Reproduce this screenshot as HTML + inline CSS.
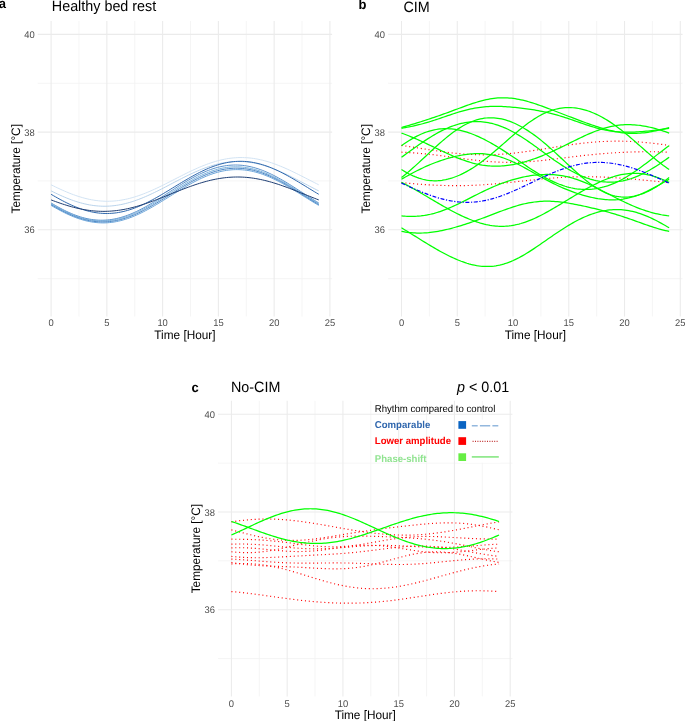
<!DOCTYPE html>
<html><head><meta charset="utf-8"><title>Temperature rhythms</title>
<style>html,body{margin:0;padding:0;background:#fff;width:685px;height:721px;overflow:hidden}svg{display:block}</style>
</head><body>
<svg width="685" height="721" viewBox="0 0 685 721">
<style>
.gM{stroke:#ebebeb;stroke-width:1.07;fill:none}
.gm{stroke:#f3f3f3;stroke-width:0.8;fill:none}
text{font-family:"Liberation Sans",sans-serif;text-rendering:geometricPrecision}
svg{will-change:transform}
.ax{font-size:9.4px;fill:#4d4d4d}
.at{font-size:11.8px;fill:#000}
.ti{font-size:14.35px;fill:#000}
.tag{font-size:13px;font-weight:bold;fill:#000}
.lg{font-size:9.6px}
.gr{stroke:#00ff00;stroke-width:1.25;fill:none}
.rd{stroke:#ff0000;stroke-width:1.15;fill:none;stroke-dasharray:1.05 2.85}
.bl{stroke:#0000ff;stroke-width:1.2;fill:none;stroke-dasharray:4 1.6 1.2 1.6}
</style>
<rect width="685" height="721" fill="#fff"/>
<line x1="78.98" y1="20.97" x2="78.98" y2="316.51" class="gm"/>
<line x1="134.74" y1="20.97" x2="134.74" y2="316.51" class="gm"/>
<line x1="190.5" y1="20.97" x2="190.5" y2="316.51" class="gm"/>
<line x1="246.26" y1="20.97" x2="246.26" y2="316.51" class="gm"/>
<line x1="302.02" y1="20.97" x2="302.02" y2="316.51" class="gm"/>
<line x1="37.72" y1="278.65" x2="332.13" y2="278.65" class="gm"/>
<line x1="37.72" y1="180.95" x2="332.13" y2="180.95" class="gm"/>
<line x1="37.72" y1="83.25" x2="332.13" y2="83.25" class="gm"/>
<line x1="51.1" y1="20.97" x2="51.1" y2="316.51" class="gM"/>
<line x1="106.86" y1="20.97" x2="106.86" y2="316.51" class="gM"/>
<line x1="162.62" y1="20.97" x2="162.62" y2="316.51" class="gM"/>
<line x1="218.38" y1="20.97" x2="218.38" y2="316.51" class="gM"/>
<line x1="274.14" y1="20.97" x2="274.14" y2="316.51" class="gM"/>
<line x1="329.9" y1="20.97" x2="329.9" y2="316.51" class="gM"/>
<line x1="37.72" y1="229.8" x2="332.13" y2="229.8" class="gM"/>
<line x1="37.72" y1="132.1" x2="332.13" y2="132.1" class="gM"/>
<line x1="37.72" y1="34.4" x2="332.13" y2="34.4" class="gM"/>
<line x1="429.38" y1="20.97" x2="429.38" y2="316.51" class="gm"/>
<line x1="485.14" y1="20.97" x2="485.14" y2="316.51" class="gm"/>
<line x1="540.9" y1="20.97" x2="540.9" y2="316.51" class="gm"/>
<line x1="596.66" y1="20.97" x2="596.66" y2="316.51" class="gm"/>
<line x1="652.42" y1="20.97" x2="652.42" y2="316.51" class="gm"/>
<line x1="388.12" y1="278.65" x2="682.53" y2="278.65" class="gm"/>
<line x1="388.12" y1="180.95" x2="682.53" y2="180.95" class="gm"/>
<line x1="388.12" y1="83.25" x2="682.53" y2="83.25" class="gm"/>
<line x1="401.5" y1="20.97" x2="401.5" y2="316.51" class="gM"/>
<line x1="457.26" y1="20.97" x2="457.26" y2="316.51" class="gM"/>
<line x1="513.02" y1="20.97" x2="513.02" y2="316.51" class="gM"/>
<line x1="568.78" y1="20.97" x2="568.78" y2="316.51" class="gM"/>
<line x1="624.54" y1="20.97" x2="624.54" y2="316.51" class="gM"/>
<line x1="680.3" y1="20.97" x2="680.3" y2="316.51" class="gM"/>
<line x1="388.12" y1="229.8" x2="682.53" y2="229.8" class="gM"/>
<line x1="388.12" y1="132.1" x2="682.53" y2="132.1" class="gM"/>
<line x1="388.12" y1="34.4" x2="682.53" y2="34.4" class="gM"/>
<line x1="259.28" y1="400.87" x2="259.28" y2="696.41" class="gm"/>
<line x1="315.04" y1="400.87" x2="315.04" y2="696.41" class="gm"/>
<line x1="370.8" y1="400.87" x2="370.8" y2="696.41" class="gm"/>
<line x1="426.56" y1="400.87" x2="426.56" y2="696.41" class="gm"/>
<line x1="482.32" y1="400.87" x2="482.32" y2="696.41" class="gm"/>
<line x1="218.02" y1="658.55" x2="512.43" y2="658.55" class="gm"/>
<line x1="218.02" y1="560.85" x2="512.43" y2="560.85" class="gm"/>
<line x1="218.02" y1="463.15" x2="512.43" y2="463.15" class="gm"/>
<line x1="231.4" y1="400.87" x2="231.4" y2="696.41" class="gM"/>
<line x1="287.16" y1="400.87" x2="287.16" y2="696.41" class="gM"/>
<line x1="342.92" y1="400.87" x2="342.92" y2="696.41" class="gM"/>
<line x1="398.68" y1="400.87" x2="398.68" y2="696.41" class="gM"/>
<line x1="454.44" y1="400.87" x2="454.44" y2="696.41" class="gM"/>
<line x1="510.2" y1="400.87" x2="510.2" y2="696.41" class="gM"/>
<line x1="218.02" y1="609.7" x2="512.43" y2="609.7" class="gM"/>
<line x1="218.02" y1="512" x2="512.43" y2="512" class="gM"/>
<line x1="218.02" y1="414.3" x2="512.43" y2="414.3" class="gM"/>
<text transform="translate(34.6,233.3) scale(1,1.04)" class="ax" text-anchor="end">36</text>
<text transform="translate(34.6,135.6) scale(1,1.04)" class="ax" text-anchor="end">38</text>
<text transform="translate(34.6,37.9) scale(1,1.04)" class="ax" text-anchor="end">40</text>
<text transform="translate(51.1,326.3) scale(1,1.04)" class="ax" text-anchor="middle">0</text>
<text transform="translate(106.86,326.3) scale(1,1.04)" class="ax" text-anchor="middle">5</text>
<text transform="translate(162.62,326.3) scale(1,1.04)" class="ax" text-anchor="middle">10</text>
<text transform="translate(218.38,326.3) scale(1,1.04)" class="ax" text-anchor="middle">15</text>
<text transform="translate(274.14,326.3) scale(1,1.04)" class="ax" text-anchor="middle">20</text>
<text transform="translate(329.9,326.3) scale(1,1.04)" class="ax" text-anchor="middle">25</text>
<text transform="translate(19.7,168.74) rotate(-90) scale(1,1.04)" class="at" text-anchor="middle">Temperature [°C]</text>
<text transform="translate(184.92,339.1) scale(1,1.04)" class="at" text-anchor="middle">Time [Hour]</text>
<text transform="translate(385,233.3) scale(1,1.04)" class="ax" text-anchor="end">36</text>
<text transform="translate(385,135.6) scale(1,1.04)" class="ax" text-anchor="end">38</text>
<text transform="translate(385,37.9) scale(1,1.04)" class="ax" text-anchor="end">40</text>
<text transform="translate(401.5,326.3) scale(1,1.04)" class="ax" text-anchor="middle">0</text>
<text transform="translate(457.26,326.3) scale(1,1.04)" class="ax" text-anchor="middle">5</text>
<text transform="translate(513.02,326.3) scale(1,1.04)" class="ax" text-anchor="middle">10</text>
<text transform="translate(568.78,326.3) scale(1,1.04)" class="ax" text-anchor="middle">15</text>
<text transform="translate(624.54,326.3) scale(1,1.04)" class="ax" text-anchor="middle">20</text>
<text transform="translate(680.3,326.3) scale(1,1.04)" class="ax" text-anchor="middle">25</text>
<text transform="translate(370.1,168.74) rotate(-90) scale(1,1.04)" class="at" text-anchor="middle">Temperature [°C]</text>
<text transform="translate(535.32,339.1) scale(1,1.04)" class="at" text-anchor="middle">Time [Hour]</text>
<text transform="translate(214.9,613.2) scale(1,1.04)" class="ax" text-anchor="end">36</text>
<text transform="translate(214.9,515.5) scale(1,1.04)" class="ax" text-anchor="end">38</text>
<text transform="translate(214.9,417.8) scale(1,1.04)" class="ax" text-anchor="end">40</text>
<text transform="translate(231.4,706.8) scale(1,1.04)" class="ax" text-anchor="middle">0</text>
<text transform="translate(287.16,706.8) scale(1,1.04)" class="ax" text-anchor="middle">5</text>
<text transform="translate(342.92,706.8) scale(1,1.04)" class="ax" text-anchor="middle">10</text>
<text transform="translate(398.68,706.8) scale(1,1.04)" class="ax" text-anchor="middle">15</text>
<text transform="translate(454.44,706.8) scale(1,1.04)" class="ax" text-anchor="middle">20</text>
<text transform="translate(510.2,706.8) scale(1,1.04)" class="ax" text-anchor="middle">25</text>
<text transform="translate(199.7,548.64) rotate(-90) scale(1,1.04)" class="at" text-anchor="middle">Temperature [°C]</text>
<text transform="translate(365.22,718.9) scale(1,1.04)" class="at" text-anchor="middle">Time [Hour]</text>
<text transform="translate(-1.3,7.9) scale(1,1.04)" class="tag">a</text>
<text transform="translate(51.8,11.0) scale(1,1.04)" class="ti">Healthy bed rest</text>
<text transform="translate(358.6,9.0) scale(1,1.04)" class="tag">b</text>
<text transform="translate(403.5,11.6) scale(1,1.04)" class="ti">CIM</text>
<text transform="translate(191.4,391.9) scale(1,1.04)" class="tag">c</text>
<text transform="translate(231.0,391.6) scale(1,1.04)" class="ti">No-CIM</text>
<text transform="translate(457.0,391.6) scale(1,1.04)" class="ti"><tspan font-style="italic">p</tspan> &lt; 0.01</text>
<path d="M51.1,184.79 L53.35,185.9 L55.6,186.99 L57.85,188.07 L60.1,189.11 L62.35,190.13 L64.59,191.12 L66.84,192.08 L69.09,193 L71.34,193.89 L73.59,194.73 L75.84,195.53 L78.09,196.29 L80.34,197 L82.59,197.66 L84.84,198.27 L87.09,198.83 L89.34,199.33 L91.58,199.78 L93.83,200.17 L96.08,200.5 L98.33,200.77 L100.58,200.99 L102.83,201.14 L105.08,201.24 L107.33,201.27 L109.58,201.24 L111.83,201.15 L114.08,201 L116.33,200.79 L118.57,200.52 L120.82,200.2 L123.07,199.81 L125.32,199.37 L127.57,198.87 L129.82,198.32 L132.07,197.71 L134.32,197.05 L136.57,196.35 L138.82,195.6 L141.07,194.8 L143.31,193.96 L145.56,193.08 L147.81,192.16 L150.06,191.2 L152.31,190.21 L154.56,189.19 L156.81,188.15 L159.06,187.08 L161.31,185.99 L163.56,184.88 L165.81,183.75 L168.06,182.62 L170.3,181.47 L172.55,180.32 L174.8,179.17 L177.05,178.01 L179.3,176.86 L181.55,175.72 L183.8,174.59 L186.05,173.47 L188.3,172.37 L190.55,171.29 L192.8,170.23 L195.05,169.19 L197.29,168.19 L199.54,167.21 L201.79,166.27 L204.04,165.37 L206.29,164.5 L208.54,163.68 L210.79,162.9 L213.04,162.17 L215.29,161.48 L217.54,160.85 L219.79,160.26 L222.03,159.73 L224.28,159.26 L226.53,158.84 L228.78,158.48 L231.03,158.17 L233.28,157.93 L235.53,157.75 L237.78,157.62 L240.03,157.56 L242.28,157.56 L244.53,157.61 L246.78,157.73 L249.02,157.91 L251.27,158.15 L253.52,158.45 L255.77,158.81 L258.02,159.22 L260.27,159.7 L262.52,160.22 L264.77,160.8 L267.02,161.43 L269.27,162.11 L271.52,162.84 L273.77,163.62 L276.01,164.44 L278.26,165.3 L280.51,166.2 L282.76,167.14 L285.01,168.11 L287.26,169.11 L289.51,170.14 L291.76,171.2 L294.01,172.28 L296.26,173.38 L298.51,174.5 L300.75,175.63 L303,176.77 L305.25,177.92 L307.5,179.08 L309.75,180.23 L312,181.38 L314.25,182.53 L316.5,183.67 L318.75,184.79" stroke="#d0e2f2" stroke-width="0.95" fill="none"/>
<path d="M51.1,190.9 L53.35,192.01 L55.6,193.1 L57.85,194.16 L60.1,195.2 L62.35,196.2 L64.59,197.16 L66.84,198.1 L69.09,198.99 L71.34,199.84 L73.59,200.64 L75.84,201.4 L78.09,202.11 L80.34,202.76 L82.59,203.37 L84.84,203.92 L87.09,204.42 L89.34,204.86 L91.58,205.23 L93.83,205.55 L96.08,205.81 L98.33,206.01 L100.58,206.15 L102.83,206.22 L105.08,206.24 L107.33,206.19 L109.58,206.08 L111.83,205.9 L114.08,205.67 L116.33,205.37 L118.57,205.01 L120.82,204.6 L123.07,204.13 L125.32,203.6 L127.57,203.01 L129.82,202.38 L132.07,201.69 L134.32,200.95 L136.57,200.16 L138.82,199.33 L141.07,198.46 L143.31,197.54 L145.56,196.59 L147.81,195.6 L150.06,194.58 L152.31,193.53 L154.56,192.45 L156.81,191.35 L159.06,190.23 L161.31,189.09 L163.56,187.93 L165.81,186.77 L168.06,185.59 L170.3,184.41 L172.55,183.23 L174.8,182.05 L177.05,180.88 L179.3,179.71 L181.55,178.56 L183.8,177.42 L186.05,176.3 L188.3,175.2 L190.55,174.13 L192.8,173.08 L195.05,172.06 L197.29,171.07 L199.54,170.12 L201.79,169.21 L204.04,168.34 L206.29,167.52 L208.54,166.74 L210.79,166 L213.04,165.32 L215.29,164.69 L217.54,164.11 L219.79,163.58 L222.03,163.12 L224.28,162.71 L226.53,162.36 L228.78,162.07 L231.03,161.84 L233.28,161.67 L235.53,161.56 L237.78,161.52 L240.03,161.54 L242.28,161.62 L244.53,161.76 L246.78,161.97 L249.02,162.23 L251.27,162.56 L253.52,162.95 L255.77,163.39 L258.02,163.89 L260.27,164.45 L262.52,165.06 L264.77,165.72 L267.02,166.43 L269.27,167.2 L271.52,168.01 L273.77,168.86 L276.01,169.75 L278.26,170.69 L280.51,171.66 L282.76,172.67 L285.01,173.7 L287.26,174.77 L289.51,175.86 L291.76,176.97 L294.01,178.1 L296.26,179.25 L298.51,180.41 L300.75,181.58 L303,182.76 L305.25,183.94 L307.5,185.12 L309.75,186.29 L312,187.46 L314.25,188.62 L316.5,189.77 L318.75,190.9" stroke="#b5d1ea" stroke-width="0.95" fill="none"/>
<path d="M51.1,202.98 L53.35,204.31 L55.6,205.61 L57.85,206.88 L60.1,208.11 L62.35,209.29 L64.59,210.43 L66.84,211.52 L69.09,212.56 L71.34,213.53 L73.59,214.46 L75.84,215.32 L78.09,216.11 L80.34,216.85 L82.59,217.51 L84.84,218.11 L87.09,218.63 L89.34,219.08 L91.58,219.46 L93.83,219.76 L96.08,219.99 L98.33,220.14 L100.58,220.21 L102.83,220.21 L105.08,220.13 L107.33,219.97 L109.58,219.74 L111.83,219.43 L114.08,219.05 L116.33,218.59 L118.57,218.06 L120.82,217.46 L123.07,216.79 L125.32,216.05 L127.57,215.25 L129.82,214.39 L132.07,213.46 L134.32,212.48 L136.57,211.44 L138.82,210.35 L141.07,209.2 L143.31,208.02 L145.56,206.79 L147.81,205.52 L150.06,204.21 L152.31,202.87 L154.56,201.5 L156.81,200.11 L159.06,198.7 L161.31,197.27 L163.56,195.83 L165.81,194.37 L168.06,192.92 L170.3,191.46 L172.55,190.01 L174.8,188.56 L177.05,187.12 L179.3,185.7 L181.55,184.3 L183.8,182.92 L186.05,181.57 L188.3,180.25 L190.55,178.97 L192.8,177.72 L195.05,176.51 L197.29,175.35 L199.54,174.24 L201.79,173.18 L204.04,172.17 L206.29,171.22 L208.54,170.33 L210.79,169.5 L213.04,168.73 L215.29,168.03 L217.54,167.4 L219.79,166.84 L222.03,166.36 L224.28,165.94 L226.53,165.6 L228.78,165.34 L231.03,165.15 L233.28,165.04 L235.53,165 L237.78,165.04 L240.03,165.16 L242.28,165.35 L244.53,165.63 L246.78,165.97 L249.02,166.39 L251.27,166.88 L253.52,167.45 L255.77,168.09 L258.02,168.79 L260.27,169.56 L262.52,170.39 L264.77,171.29 L267.02,172.24 L269.27,173.26 L271.52,174.32 L273.77,175.44 L276.01,176.6 L278.26,177.81 L280.51,179.07 L282.76,180.35 L285.01,181.68 L287.26,183.03 L289.51,184.41 L291.76,185.81 L294.01,187.23 L296.26,188.67 L298.51,190.12 L300.75,191.57 L303,193.03 L305.25,194.49 L307.5,195.94 L309.75,197.38 L312,198.81 L314.25,200.22 L316.5,201.61 L318.75,202.98" stroke="#4a86c6" stroke-width="0.9" fill="none"/>
<path d="M51.1,203.8 L53.35,205.11 L55.6,206.4 L57.85,207.65 L60.1,208.86 L62.35,210.03 L64.59,211.16 L66.84,212.24 L69.09,213.26 L71.34,214.23 L73.59,215.15 L75.84,216.01 L78.09,216.8 L80.34,217.53 L82.59,218.2 L84.84,218.79 L87.09,219.32 L89.34,219.78 L91.58,220.16 L93.83,220.48 L96.08,220.71 L98.33,220.88 L100.58,220.96 L102.83,220.98 L105.08,220.91 L107.33,220.77 L109.58,220.56 L111.83,220.27 L114.08,219.91 L116.33,219.48 L118.57,218.97 L120.82,218.4 L123.07,217.75 L125.32,217.04 L127.57,216.27 L129.82,215.43 L132.07,214.53 L134.32,213.58 L136.57,212.57 L138.82,211.51 L141.07,210.4 L143.31,209.24 L145.56,208.04 L147.81,206.8 L150.06,205.53 L152.31,204.22 L154.56,202.88 L156.81,201.52 L159.06,200.14 L161.31,198.74 L163.56,197.33 L165.81,195.9 L168.06,194.48 L170.3,193.05 L172.55,191.62 L174.8,190.2 L177.05,188.79 L179.3,187.39 L181.55,186.01 L183.8,184.65 L186.05,183.32 L188.3,182.02 L190.55,180.75 L192.8,179.52 L195.05,178.33 L197.29,177.18 L199.54,176.08 L201.79,175.02 L204.04,174.02 L206.29,173.08 L208.54,172.19 L210.79,171.37 L213.04,170.61 L215.29,169.91 L217.54,169.28 L219.79,168.71 L222.03,168.22 L224.28,167.8 L226.53,167.45 L228.78,167.18 L231.03,166.98 L233.28,166.85 L235.53,166.8 L237.78,166.83 L240.03,166.93 L242.28,167.1 L244.53,167.36 L246.78,167.68 L249.02,168.08 L251.27,168.55 L253.52,169.09 L255.77,169.7 L258.02,170.38 L260.27,171.12 L262.52,171.92 L264.77,172.79 L267.02,173.72 L269.27,174.7 L271.52,175.74 L273.77,176.82 L276.01,177.96 L278.26,179.13 L280.51,180.35 L282.76,181.61 L285.01,182.9 L287.26,184.22 L289.51,185.57 L291.76,186.95 L294.01,188.34 L296.26,189.74 L298.51,191.16 L300.75,192.59 L303,194.02 L305.25,195.45 L307.5,196.87 L309.75,198.29 L312,199.7 L314.25,201.08 L316.5,202.45 L318.75,203.8" stroke="#6aa8d8" stroke-width="0.9" fill="none"/>
<path d="M51.1,204.63 L53.35,205.95 L55.6,207.23 L57.85,208.47 L60.1,209.69 L62.35,210.85 L64.59,211.98 L66.84,213.06 L69.09,214.09 L71.34,215.06 L73.59,215.98 L75.84,216.84 L78.09,217.64 L80.34,218.38 L82.59,219.05 L84.84,219.66 L87.09,220.2 L89.34,220.66 L91.58,221.06 L93.83,221.38 L96.08,221.63 L98.33,221.81 L100.58,221.91 L102.83,221.94 L105.08,221.89 L107.33,221.77 L109.58,221.57 L111.83,221.3 L114.08,220.96 L116.33,220.54 L118.57,220.05 L120.82,219.5 L123.07,218.87 L125.32,218.18 L127.57,217.42 L129.82,216.6 L132.07,215.73 L134.32,214.79 L136.57,213.8 L138.82,212.76 L141.07,211.67 L143.31,210.53 L145.56,209.35 L147.81,208.12 L150.06,206.87 L152.31,205.58 L154.56,204.26 L156.81,202.91 L159.06,201.54 L161.31,200.16 L163.56,198.76 L165.81,197.35 L168.06,195.93 L170.3,194.51 L172.55,193.1 L174.8,191.69 L177.05,190.28 L179.3,188.89 L181.55,187.52 L183.8,186.17 L186.05,184.85 L188.3,183.55 L190.55,182.28 L192.8,181.06 L195.05,179.86 L197.29,178.72 L199.54,177.61 L201.79,176.56 L204.04,175.56 L206.29,174.61 L208.54,173.72 L210.79,172.89 L213.04,172.12 L215.29,171.41 L217.54,170.77 L219.79,170.2 L222.03,169.7 L224.28,169.27 L226.53,168.91 L228.78,168.62 L231.03,168.41 L233.28,168.27 L235.53,168.2 L237.78,168.22 L240.03,168.3 L242.28,168.46 L244.53,168.7 L246.78,169 L249.02,169.38 L251.27,169.84 L253.52,170.36 L255.77,170.95 L258.02,171.61 L260.27,172.33 L262.52,173.12 L264.77,173.97 L267.02,174.87 L269.27,175.84 L271.52,176.85 L273.77,177.92 L276.01,179.04 L278.26,180.2 L280.51,181.4 L282.76,182.64 L285.01,183.92 L287.26,185.22 L289.51,186.55 L291.76,187.91 L294.01,189.29 L296.26,190.68 L298.51,192.09 L300.75,193.5 L303,194.92 L305.25,196.34 L307.5,197.75 L309.75,199.16 L312,200.55 L314.25,201.93 L316.5,203.3 L318.75,204.63" stroke="#3a78bc" stroke-width="0.9" fill="none"/>
<path d="M51.1,205.41 L53.35,206.72 L55.6,208 L57.85,209.24 L60.1,210.45 L62.35,211.62 L64.59,212.75 L66.84,213.83 L69.09,214.86 L71.34,215.84 L73.59,216.77 L75.84,217.64 L78.09,218.45 L80.34,219.2 L82.59,219.88 L84.84,220.5 L87.09,221.05 L89.34,221.53 L91.58,221.94 L93.83,222.28 L96.08,222.54 L98.33,222.74 L100.58,222.85 L102.83,222.9 L105.08,222.87 L107.33,222.77 L109.58,222.59 L111.83,222.34 L114.08,222.02 L116.33,221.62 L118.57,221.15 L120.82,220.62 L123.07,220.01 L125.32,219.35 L127.57,218.61 L129.82,217.82 L132.07,216.96 L134.32,216.04 L136.57,215.08 L138.82,214.05 L141.07,212.98 L143.31,211.86 L145.56,210.7 L147.81,209.5 L150.06,208.26 L152.31,206.99 L154.56,205.69 L156.81,204.36 L159.06,203.01 L161.31,201.64 L163.56,200.25 L165.81,198.86 L168.06,197.45 L170.3,196.05 L172.55,194.64 L174.8,193.24 L177.05,191.85 L179.3,190.47 L181.55,189.1 L183.8,187.76 L186.05,186.43 L188.3,185.14 L190.55,183.88 L192.8,182.65 L195.05,181.46 L197.29,180.31 L199.54,179.2 L201.79,178.15 L204.04,177.14 L206.29,176.19 L208.54,175.29 L210.79,174.45 L213.04,173.67 L215.29,172.95 L217.54,172.3 L219.79,171.72 L222.03,171.2 L224.28,170.76 L226.53,170.38 L228.78,170.08 L231.03,169.85 L233.28,169.7 L235.53,169.61 L237.78,169.61 L240.03,169.67 L242.28,169.81 L244.53,170.03 L246.78,170.31 L249.02,170.67 L251.27,171.1 L253.52,171.61 L255.77,172.17 L258.02,172.81 L260.27,173.51 L262.52,174.28 L264.77,175.11 L267.02,175.99 L269.27,176.93 L271.52,177.93 L273.77,178.98 L276.01,180.07 L278.26,181.21 L280.51,182.39 L282.76,183.61 L285.01,184.87 L287.26,186.16 L289.51,187.47 L291.76,188.81 L294.01,190.17 L296.26,191.55 L298.51,192.94 L300.75,194.34 L303,195.75 L305.25,197.16 L307.5,198.56 L309.75,199.96 L312,201.35 L314.25,202.72 L316.5,204.07 L318.75,205.41" stroke="#5b9bd5" stroke-width="0.9" fill="none"/>
<path d="M51.1,194.29 L53.35,195.61 L55.6,196.9 L57.85,198.17 L60.1,199.41 L62.35,200.62 L64.59,201.79 L66.84,202.92 L69.09,204 L71.34,205.04 L73.59,206.03 L75.84,206.97 L78.09,207.86 L80.34,208.68 L82.59,209.45 L84.84,210.16 L87.09,210.8 L89.34,211.38 L91.58,211.89 L93.83,212.33 L96.08,212.7 L98.33,213.01 L100.58,213.24 L102.83,213.4 L105.08,213.48 L107.33,213.5 L109.58,213.44 L111.83,213.31 L114.08,213.1 L116.33,212.83 L118.57,212.48 L120.82,212.07 L123.07,211.58 L125.32,211.03 L127.57,210.41 L129.82,209.73 L132.07,208.98 L134.32,208.18 L136.57,207.32 L138.82,206.4 L141.07,205.43 L143.31,204.41 L145.56,203.34 L147.81,202.23 L150.06,201.07 L152.31,199.88 L154.56,198.65 L156.81,197.39 L159.06,196.11 L161.31,194.8 L163.56,193.47 L165.81,192.12 L168.06,190.76 L170.3,189.39 L172.55,188.01 L174.8,186.63 L177.05,185.26 L179.3,183.89 L181.55,182.53 L183.8,181.18 L186.05,179.85 L188.3,178.54 L190.55,177.26 L192.8,176 L195.05,174.78 L197.29,173.59 L199.54,172.44 L201.79,171.34 L204.04,170.27 L206.29,169.26 L208.54,168.29 L210.79,167.38 L213.04,166.52 L215.29,165.73 L217.54,164.99 L219.79,164.31 L222.03,163.7 L224.28,163.16 L226.53,162.68 L228.78,162.27 L231.03,161.94 L233.28,161.67 L235.53,161.47 L237.78,161.35 L240.03,161.3 L242.28,161.32 L244.53,161.42 L246.78,161.59 L249.02,161.83 L251.27,162.14 L253.52,162.52 L255.77,162.97 L258.02,163.49 L260.27,164.07 L262.52,164.72 L264.77,165.44 L267.02,166.21 L269.27,167.04 L271.52,167.93 L273.77,168.88 L276.01,169.88 L278.26,170.92 L280.51,172.01 L282.76,173.15 L285.01,174.32 L287.26,175.53 L289.51,176.77 L291.76,178.05 L294.01,179.34 L296.26,180.67 L298.51,182.01 L300.75,183.36 L303,184.73 L305.25,186.1 L307.5,187.48 L309.75,188.86 L312,190.23 L314.25,191.6 L316.5,192.95 L318.75,194.29" stroke="#2f68ad" stroke-width="1.0" fill="none"/>
<path d="M51.1,199.91 L53.35,200.76 L55.6,201.59 L57.85,202.4 L60.1,203.18 L62.35,203.94 L64.59,204.67 L66.84,205.38 L69.09,206.05 L71.34,206.69 L73.59,207.29 L75.84,207.86 L78.09,208.39 L80.34,208.88 L82.59,209.33 L84.84,209.73 L87.09,210.1 L89.34,210.42 L91.58,210.69 L93.83,210.92 L96.08,211.1 L98.33,211.23 L100.58,211.32 L102.83,211.36 L105.08,211.35 L107.33,211.29 L109.58,211.19 L111.83,211.03 L114.08,210.83 L116.33,210.59 L118.57,210.3 L120.82,209.96 L123.07,209.58 L125.32,209.16 L127.57,208.69 L129.82,208.19 L132.07,207.64 L134.32,207.06 L136.57,206.44 L138.82,205.79 L141.07,205.11 L143.31,204.39 L145.56,203.65 L147.81,202.88 L150.06,202.08 L152.31,201.27 L154.56,200.43 L156.81,199.58 L159.06,198.71 L161.31,197.83 L163.56,196.94 L165.81,196.04 L168.06,195.14 L170.3,194.23 L172.55,193.32 L174.8,192.42 L177.05,191.52 L179.3,190.63 L181.55,189.74 L183.8,188.87 L186.05,188.02 L188.3,187.18 L190.55,186.36 L192.8,185.57 L195.05,184.79 L197.29,184.05 L199.54,183.33 L201.79,182.64 L204.04,181.99 L206.29,181.36 L208.54,180.78 L210.79,180.23 L213.04,179.72 L215.29,179.25 L217.54,178.82 L219.79,178.44 L222.03,178.1 L224.28,177.8 L226.53,177.55 L228.78,177.35 L231.03,177.19 L233.28,177.08 L235.53,177.02 L237.78,177 L240.03,177.03 L242.28,177.12 L244.53,177.24 L246.78,177.42 L249.02,177.64 L251.27,177.91 L253.52,178.23 L255.77,178.58 L258.02,178.99 L260.27,179.43 L262.52,179.92 L264.77,180.44 L267.02,181 L269.27,181.6 L271.52,182.24 L273.77,182.91 L276.01,183.61 L278.26,184.34 L280.51,185.09 L282.76,185.88 L285.01,186.68 L287.26,187.51 L289.51,188.35 L291.76,189.21 L294.01,190.09 L296.26,190.97 L298.51,191.87 L300.75,192.77 L303,193.68 L305.25,194.58 L307.5,195.49 L309.75,196.39 L312,197.29 L314.25,198.18 L316.5,199.05 L318.75,199.91" stroke="#1e3e74" stroke-width="1.0" fill="none"/>
<path d="M401.5,145.41 L403.43,145.7 L405.35,145.99 L407.28,146.28 L409.2,146.58 L411.13,146.88 L413.05,147.18 L414.98,147.49 L416.9,147.79 L418.83,148.1 L420.76,148.41 L422.68,148.72 L424.61,149.02 L426.53,149.33 L428.46,149.63 L430.38,149.93 L432.31,150.22 L434.23,150.51 L436.16,150.8 L438.08,151.08 L440.01,151.35 L441.94,151.62 L443.86,151.88 L445.79,152.13 L447.71,152.38 L449.64,152.61 L451.56,152.84 L453.49,153.05 L455.41,153.26 L457.34,153.45 L459.27,153.63 L461.19,153.8 L463.12,153.96 L465.04,154.11 L466.97,154.24 L468.89,154.36 L470.82,154.47 L472.74,154.56 L474.67,154.64 L476.6,154.7 L478.52,154.75 L480.45,154.78 L482.37,154.8 L484.3,154.81 L486.22,154.8 L488.15,154.78 L490.07,154.74 L492,154.68 L493.93,154.62 L495.85,154.53 L497.78,154.44 L499.7,154.33 L501.63,154.2 L503.55,154.07 L505.48,153.92 L507.4,153.75 L509.33,153.58 L511.25,153.39 L513.18,153.19 L515.11,152.98 L517.03,152.76 L518.96,152.53 L520.88,152.29 L522.81,152.04 L524.73,151.78 L526.66,151.52 L528.58,151.25 L530.51,150.97 L532.44,150.68 L534.36,150.39 L536.29,150.09 L538.21,149.79 L540.14,149.49 L542.06,149.19 L543.99,148.88 L545.91,148.57 L547.84,148.26 L549.77,147.95 L551.69,147.63 L553.62,147.33 L555.54,147.02 L557.47,146.71 L559.39,146.41 L561.32,146.11 L563.24,145.82 L565.17,145.53 L567.1,145.24 L569.02,144.96 L570.95,144.69 L572.87,144.43 L574.8,144.17 L576.72,143.92 L578.65,143.68 L580.57,143.44 L582.5,143.22 L584.42,143.01 L586.35,142.8 L588.28,142.61 L590.2,142.43 L592.13,142.26 L594.05,142.1 L595.98,141.95 L597.9,141.81 L599.83,141.69 L601.75,141.58 L603.68,141.48 L605.61,141.39 L607.53,141.32 L609.46,141.26 L611.38,141.21 L613.31,141.17 L615.23,141.15 L617.16,141.15 L619.08,141.15 L621.01,141.17 L622.94,141.2 L624.86,141.24 L626.79,141.3 L628.71,141.37 L630.64,141.46 L632.56,141.55 L634.49,141.66 L636.41,141.78 L638.34,141.91 L640.27,142.06 L642.19,142.21 L644.12,142.38 L646.04,142.56 L647.97,142.75 L649.89,142.95 L651.82,143.15 L653.74,143.37 L655.67,143.6 L657.59,143.84 L659.52,144.08 L661.45,144.33 L663.37,144.59 L665.3,144.86 L667.22,145.13 L669.15,145.41" class="rd"/>
<path d="M401.5,152.19 L403.43,152.28 L405.35,152.37 L407.28,152.48 L409.2,152.59 L411.13,152.71 L413.05,152.85 L414.98,152.99 L416.9,153.14 L418.83,153.29 L420.76,153.46 L422.68,153.63 L424.61,153.82 L426.53,154.01 L428.46,154.21 L430.38,154.41 L432.31,154.63 L434.23,154.85 L436.16,155.07 L438.08,155.31 L440.01,155.54 L441.94,155.79 L443.86,156.04 L445.79,156.29 L447.71,156.54 L449.64,156.8 L451.56,157.06 L453.49,157.33 L455.41,157.59 L457.34,157.85 L459.27,158.11 L461.19,158.38 L463.12,158.63 L465.04,158.89 L466.97,159.14 L468.89,159.39 L470.82,159.63 L472.74,159.87 L474.67,160.1 L476.6,160.32 L478.52,160.53 L480.45,160.74 L482.37,160.93 L484.3,161.12 L486.22,161.29 L488.15,161.45 L490.07,161.6 L492,161.74 L493.93,161.87 L495.85,161.98 L497.78,162.08 L499.7,162.16 L501.63,162.23 L503.55,162.28 L505.48,162.32 L507.4,162.35 L509.33,162.36 L511.25,162.36 L513.18,162.34 L515.11,162.31 L517.03,162.26 L518.96,162.2 L520.88,162.12 L522.81,162.03 L524.73,161.93 L526.66,161.81 L528.58,161.69 L530.51,161.55 L532.44,161.4 L534.36,161.24 L536.29,161.07 L538.21,160.89 L540.14,160.7 L542.06,160.5 L543.99,160.29 L545.91,160.08 L547.84,159.86 L549.77,159.64 L551.69,159.41 L553.62,159.18 L555.54,158.94 L557.47,158.7 L559.39,158.46 L561.32,158.22 L563.24,157.98 L565.17,157.74 L567.1,157.49 L569.02,157.25 L570.95,157.01 L572.87,156.78 L574.8,156.54 L576.72,156.31 L578.65,156.08 L580.57,155.86 L582.5,155.64 L584.42,155.42 L586.35,155.21 L588.28,155.01 L590.2,154.81 L592.13,154.61 L594.05,154.42 L595.98,154.24 L597.9,154.06 L599.83,153.89 L601.75,153.73 L603.68,153.57 L605.61,153.42 L607.53,153.28 L609.46,153.14 L611.38,153.01 L613.31,152.88 L615.23,152.77 L617.16,152.65 L619.08,152.55 L621.01,152.45 L622.94,152.36 L624.86,152.27 L626.79,152.19 L628.71,152.12 L630.64,152.05 L632.56,151.99 L634.49,151.94 L636.41,151.89 L638.34,151.85 L640.27,151.82 L642.19,151.79 L644.12,151.77 L646.04,151.76 L647.97,151.75 L649.89,151.76 L651.82,151.76 L653.74,151.78 L655.67,151.8 L657.59,151.83 L659.52,151.87 L661.45,151.92 L663.37,151.97 L665.3,152.04 L667.22,152.11 L669.15,152.19" class="rd"/>
<path d="M401.5,182.6 L403.43,182.79 L405.35,182.96 L407.28,183.14 L409.2,183.31 L411.13,183.48 L413.05,183.65 L414.98,183.81 L416.9,183.96 L418.83,184.12 L420.76,184.26 L422.68,184.4 L424.61,184.54 L426.53,184.66 L428.46,184.79 L430.38,184.9 L432.31,185.01 L434.23,185.11 L436.16,185.2 L438.08,185.29 L440.01,185.37 L441.94,185.44 L443.86,185.5 L445.79,185.55 L447.71,185.6 L449.64,185.63 L451.56,185.66 L453.49,185.68 L455.41,185.68 L457.34,185.68 L459.27,185.67 L461.19,185.65 L463.12,185.62 L465.04,185.59 L466.97,185.54 L468.89,185.48 L470.82,185.41 L472.74,185.34 L474.67,185.26 L476.6,185.16 L478.52,185.06 L480.45,184.95 L482.37,184.83 L484.3,184.7 L486.22,184.57 L488.15,184.43 L490.07,184.28 L492,184.12 L493.93,183.96 L495.85,183.79 L497.78,183.61 L499.7,183.43 L501.63,183.25 L503.55,183.06 L505.48,182.86 L507.4,182.66 L509.33,182.46 L511.25,182.26 L513.18,182.05 L515.11,181.84 L517.03,181.63 L518.96,181.42 L520.88,181.21 L522.81,180.99 L524.73,180.78 L526.66,180.57 L528.58,180.36 L530.51,180.16 L532.44,179.95 L534.36,179.75 L536.29,179.55 L538.21,179.36 L540.14,179.17 L542.06,178.98 L543.99,178.8 L545.91,178.63 L547.84,178.46 L549.77,178.3 L551.69,178.14 L553.62,177.99 L555.54,177.85 L557.47,177.72 L559.39,177.59 L561.32,177.47 L563.24,177.36 L565.17,177.26 L567.1,177.17 L569.02,177.08 L570.95,177.01 L572.87,176.94 L574.8,176.89 L576.72,176.84 L578.65,176.8 L580.57,176.77 L582.5,176.75 L584.42,176.74 L586.35,176.74 L588.28,176.75 L590.2,176.76 L592.13,176.79 L594.05,176.82 L595.98,176.86 L597.9,176.92 L599.83,176.98 L601.75,177.04 L603.68,177.12 L605.61,177.2 L607.53,177.3 L609.46,177.4 L611.38,177.5 L613.31,177.62 L615.23,177.74 L617.16,177.86 L619.08,177.99 L621.01,178.13 L622.94,178.28 L624.86,178.43 L626.79,178.58 L628.71,178.74 L630.64,178.9 L632.56,179.07 L634.49,179.24 L636.41,179.42 L638.34,179.59 L640.27,179.77 L642.19,179.96 L644.12,180.14 L646.04,180.33 L647.97,180.52 L649.89,180.71 L651.82,180.9 L653.74,181.09 L655.67,181.28 L657.59,181.47 L659.52,181.67 L661.45,181.86 L663.37,182.05 L665.3,182.23 L667.22,182.42 L669.15,182.6" class="rd"/>
<path d="M401.5,127.51 L403.43,126.97 L405.35,126.42 L407.28,125.86 L409.2,125.29 L411.13,124.71 L413.05,124.13 L414.98,123.54 L416.9,122.94 L418.83,122.34 L420.76,121.73 L422.68,121.12 L424.61,120.5 L426.53,119.88 L428.46,119.25 L430.38,118.61 L432.31,117.96 L434.23,117.31 L436.16,116.66 L438.08,115.99 L440.01,115.32 L441.94,114.64 L443.86,113.95 L445.79,113.25 L447.71,112.55 L449.64,111.84 L451.56,111.13 L453.49,110.42 L455.41,109.7 L457.34,108.98 L459.27,108.26 L461.19,107.55 L463.12,106.84 L465.04,106.13 L466.97,105.44 L468.89,104.76 L470.82,104.1 L472.74,103.45 L474.67,102.83 L476.6,102.23 L478.52,101.66 L480.45,101.11 L482.37,100.6 L484.3,100.13 L486.22,99.69 L488.15,99.29 L490.07,98.94 L492,98.63 L493.93,98.37 L495.85,98.15 L497.78,97.98 L499.7,97.87 L501.63,97.8 L503.55,97.78 L505.48,97.81 L507.4,97.9 L509.33,98.03 L511.25,98.21 L513.18,98.44 L515.11,98.71 L517.03,99.03 L518.96,99.39 L520.88,99.79 L522.81,100.23 L524.73,100.7 L526.66,101.21 L528.58,101.75 L530.51,102.32 L532.44,102.91 L534.36,103.53 L536.29,104.17 L538.21,104.82 L540.14,105.5 L542.06,106.18 L543.99,106.88 L545.91,107.59 L547.84,108.31 L549.77,109.04 L551.69,109.77 L553.62,110.51 L555.54,111.25 L557.47,111.99 L559.39,112.74 L561.32,113.48 L563.24,114.23 L565.17,114.97 L567.1,115.72 L569.02,116.46 L570.95,117.2 L572.87,117.94 L574.8,118.67 L576.72,119.4 L578.65,120.13 L580.57,120.85 L582.5,121.57 L584.42,122.28 L586.35,122.98 L588.28,123.67 L590.2,124.35 L592.13,125.02 L594.05,125.68 L595.98,126.33 L597.9,126.95 L599.83,127.56 L601.75,128.15 L603.68,128.72 L605.61,129.26 L607.53,129.78 L609.46,130.27 L611.38,130.73 L613.31,131.15 L615.23,131.55 L617.16,131.91 L619.08,132.23 L621.01,132.52 L622.94,132.76 L624.86,132.97 L626.79,133.13 L628.71,133.26 L630.64,133.34 L632.56,133.38 L634.49,133.38 L636.41,133.34 L638.34,133.25 L640.27,133.13 L642.19,132.96 L644.12,132.76 L646.04,132.53 L647.97,132.26 L649.89,131.95 L651.82,131.61 L653.74,131.25 L655.67,130.86 L657.59,130.44 L659.52,130 L661.45,129.54 L663.37,129.06 L665.3,128.56 L667.22,128.04 L669.15,127.51" class="gr"/>
<path d="M401.5,128.28 L403.43,127.96 L405.35,127.62 L407.28,127.26 L409.2,126.89 L411.13,126.49 L413.05,126.08 L414.98,125.65 L416.9,125.2 L418.83,124.73 L420.76,124.24 L422.68,123.73 L424.61,123.19 L426.53,122.64 L428.46,122.07 L430.38,121.48 L432.31,120.88 L434.23,120.26 L436.16,119.63 L438.08,118.98 L440.01,118.33 L441.94,117.68 L443.86,117.01 L445.79,116.35 L447.71,115.69 L449.64,115.04 L451.56,114.39 L453.49,113.75 L455.41,113.13 L457.34,112.52 L459.27,111.93 L461.19,111.37 L463.12,110.82 L465.04,110.31 L466.97,109.82 L468.89,109.36 L470.82,108.93 L472.74,108.53 L474.67,108.17 L476.6,107.84 L478.52,107.55 L480.45,107.29 L482.37,107.06 L484.3,106.87 L486.22,106.71 L488.15,106.58 L490.07,106.49 L492,106.42 L493.93,106.39 L495.85,106.38 L497.78,106.39 L499.7,106.43 L501.63,106.49 L503.55,106.58 L505.48,106.68 L507.4,106.8 L509.33,106.94 L511.25,107.09 L513.18,107.26 L515.11,107.44 L517.03,107.64 L518.96,107.85 L520.88,108.07 L522.81,108.3 L524.73,108.55 L526.66,108.81 L528.58,109.08 L530.51,109.37 L532.44,109.67 L534.36,109.98 L536.29,110.31 L538.21,110.66 L540.14,111.03 L542.06,111.41 L543.99,111.81 L545.91,112.23 L547.84,112.68 L549.77,113.14 L551.69,113.62 L553.62,114.13 L555.54,114.65 L557.47,115.2 L559.39,115.76 L561.32,116.35 L563.24,116.95 L565.17,117.57 L567.1,118.2 L569.02,118.85 L570.95,119.5 L572.87,120.17 L574.8,120.84 L576.72,121.51 L578.65,122.19 L580.57,122.86 L582.5,123.52 L584.42,124.18 L586.35,124.83 L588.28,125.46 L590.2,126.08 L592.13,126.67 L594.05,127.25 L595.98,127.8 L597.9,128.32 L599.83,128.81 L601.75,129.28 L603.68,129.71 L605.61,130.1 L607.53,130.47 L609.46,130.79 L611.38,131.08 L613.31,131.34 L615.23,131.56 L617.16,131.75 L619.08,131.9 L621.01,132.02 L622.94,132.11 L624.86,132.17 L626.79,132.19 L628.71,132.19 L630.64,132.17 L632.56,132.12 L634.49,132.05 L636.41,131.96 L638.34,131.84 L640.27,131.72 L642.19,131.57 L644.12,131.41 L646.04,131.24 L647.97,131.05 L649.89,130.85 L651.82,130.65 L653.74,130.43 L655.67,130.2 L657.59,129.96 L659.52,129.71 L661.45,129.45 L663.37,129.18 L665.3,128.89 L667.22,128.59 L669.15,128.28" class="gr"/>
<path d="M401.5,133.06 L403.43,133.77 L405.35,134.5 L407.28,135.26 L409.2,136.03 L411.13,136.82 L413.05,137.63 L414.98,138.45 L416.9,139.29 L418.83,140.14 L420.76,141.01 L422.68,141.88 L424.61,142.77 L426.53,143.67 L428.46,144.57 L430.38,145.48 L432.31,146.4 L434.23,147.31 L436.16,148.23 L438.08,149.15 L440.01,150.07 L441.94,150.98 L443.86,151.88 L445.79,152.77 L447.71,153.65 L449.64,154.52 L451.56,155.37 L453.49,156.21 L455.41,157.02 L457.34,157.81 L459.27,158.57 L461.19,159.31 L463.12,160.02 L465.04,160.69 L466.97,161.33 L468.89,161.94 L470.82,162.51 L472.74,163.05 L474.67,163.54 L476.6,163.99 L478.52,164.4 L480.45,164.77 L482.37,165.1 L484.3,165.38 L486.22,165.62 L488.15,165.82 L490.07,165.97 L492,166.07 L493.93,166.14 L495.85,166.16 L497.78,166.14 L499.7,166.07 L501.63,165.97 L503.55,165.82 L505.48,165.63 L507.4,165.41 L509.33,165.15 L511.25,164.85 L513.18,164.51 L515.11,164.14 L517.03,163.74 L518.96,163.3 L520.88,162.84 L522.81,162.34 L524.73,161.81 L526.66,161.25 L528.58,160.66 L530.51,160.05 L532.44,159.4 L534.36,158.74 L536.29,158.04 L538.21,157.33 L540.14,156.59 L542.06,155.83 L543.99,155.04 L545.91,154.24 L547.84,153.41 L549.77,152.57 L551.69,151.7 L553.62,150.83 L555.54,149.93 L557.47,149.03 L559.39,148.11 L561.32,147.18 L563.24,146.24 L565.17,145.29 L567.1,144.34 L569.02,143.39 L570.95,142.43 L572.87,141.48 L574.8,140.53 L576.72,139.58 L578.65,138.65 L580.57,137.72 L582.5,136.81 L584.42,135.92 L586.35,135.04 L588.28,134.19 L590.2,133.36 L592.13,132.55 L594.05,131.78 L595.98,131.03 L597.9,130.32 L599.83,129.64 L601.75,129.01 L603.68,128.41 L605.61,127.85 L607.53,127.33 L609.46,126.86 L611.38,126.43 L613.31,126.05 L615.23,125.71 L617.16,125.42 L619.08,125.17 L621.01,124.98 L622.94,124.83 L624.86,124.72 L626.79,124.67 L628.71,124.66 L630.64,124.69 L632.56,124.77 L634.49,124.89 L636.41,125.05 L638.34,125.25 L640.27,125.49 L642.19,125.77 L644.12,126.09 L646.04,126.45 L647.97,126.84 L649.89,127.26 L651.82,127.71 L653.74,128.2 L655.67,128.71 L657.59,129.26 L659.52,129.83 L661.45,130.43 L663.37,131.05 L665.3,131.69 L667.22,132.36 L669.15,133.06" class="gr"/>
<path d="M401.5,145.71 L403.43,144.36 L405.35,143.04 L407.28,141.77 L409.2,140.54 L411.13,139.37 L413.05,138.24 L414.98,137.17 L416.9,136.15 L418.83,135.19 L420.76,134.3 L422.68,133.47 L424.61,132.7 L426.53,132 L428.46,131.36 L430.38,130.79 L432.31,130.29 L434.23,129.86 L436.16,129.5 L438.08,129.2 L440.01,128.97 L441.94,128.81 L443.86,128.71 L445.79,128.68 L447.71,128.71 L449.64,128.81 L451.56,128.96 L453.49,129.18 L455.41,129.45 L457.34,129.78 L459.27,130.16 L461.19,130.6 L463.12,131.09 L465.04,131.62 L466.97,132.21 L468.89,132.85 L470.82,133.53 L472.74,134.25 L474.67,135.02 L476.6,135.82 L478.52,136.67 L480.45,137.56 L482.37,138.48 L484.3,139.43 L486.22,140.43 L488.15,141.45 L490.07,142.5 L492,143.59 L493.93,144.7 L495.85,145.84 L497.78,147 L499.7,148.19 L501.63,149.4 L503.55,150.63 L505.48,151.87 L507.4,153.14 L509.33,154.41 L511.25,155.7 L513.18,156.99 L515.11,158.3 L517.03,159.6 L518.96,160.91 L520.88,162.22 L522.81,163.53 L524.73,164.83 L526.66,166.12 L528.58,167.4 L530.51,168.66 L532.44,169.91 L534.36,171.14 L536.29,172.35 L538.21,173.53 L540.14,174.68 L542.06,175.81 L543.99,176.9 L545.91,177.96 L547.84,178.98 L549.77,179.97 L551.69,180.91 L553.62,181.81 L555.54,182.67 L557.47,183.48 L559.39,184.24 L561.32,184.95 L563.24,185.62 L565.17,186.23 L567.1,186.79 L569.02,187.3 L570.95,187.76 L572.87,188.16 L574.8,188.51 L576.72,188.8 L578.65,189.03 L580.57,189.22 L582.5,189.34 L584.42,189.41 L586.35,189.42 L588.28,189.37 L590.2,189.27 L592.13,189.11 L594.05,188.9 L595.98,188.63 L597.9,188.3 L599.83,187.91 L601.75,187.47 L603.68,186.97 L605.61,186.42 L607.53,185.81 L609.46,185.14 L611.38,184.42 L613.31,183.64 L615.23,182.81 L617.16,181.93 L619.08,181 L621.01,180.01 L622.94,178.97 L624.86,177.89 L626.79,176.76 L628.71,175.58 L630.64,174.36 L632.56,173.11 L634.49,171.81 L636.41,170.47 L638.34,169.11 L640.27,167.71 L642.19,166.29 L644.12,164.84 L646.04,163.38 L647.97,161.89 L649.89,160.4 L651.82,158.9 L653.74,157.39 L655.67,155.88 L657.59,154.38 L659.52,152.89 L661.45,151.41 L663.37,149.95 L665.3,148.51 L667.22,147.09 L669.15,145.71" class="gr"/>
<path d="M401.5,157.26 L403.43,155.88 L405.35,154.5 L407.28,153.11 L409.2,151.71 L411.13,150.32 L413.05,148.93 L414.98,147.56 L416.9,146.19 L418.83,144.83 L420.76,143.5 L422.68,142.18 L424.61,140.89 L426.53,139.62 L428.46,138.38 L430.38,137.17 L432.31,135.99 L434.23,134.85 L436.16,133.74 L438.08,132.67 L440.01,131.65 L441.94,130.66 L443.86,129.73 L445.79,128.83 L447.71,127.98 L449.64,127.19 L451.56,126.44 L453.49,125.74 L455.41,125.09 L457.34,124.5 L459.27,123.95 L461.19,123.47 L463.12,123.03 L465.04,122.66 L466.97,122.34 L468.89,122.07 L470.82,121.87 L472.74,121.72 L474.67,121.63 L476.6,121.6 L478.52,121.63 L480.45,121.71 L482.37,121.86 L484.3,122.06 L486.22,122.33 L488.15,122.65 L490.07,123.03 L492,123.48 L493.93,123.98 L495.85,124.53 L497.78,125.15 L499.7,125.82 L501.63,126.54 L503.55,127.32 L505.48,128.16 L507.4,129.04 L509.33,129.98 L511.25,130.96 L513.18,131.99 L515.11,133.06 L517.03,134.18 L518.96,135.34 L520.88,136.53 L522.81,137.76 L524.73,139.02 L526.66,140.31 L528.58,141.63 L530.51,142.96 L532.44,144.32 L534.36,145.7 L536.29,147.09 L538.21,148.49 L540.14,149.89 L542.06,151.3 L543.99,152.71 L545.91,154.12 L547.84,155.52 L549.77,156.91 L551.69,158.29 L553.62,159.65 L555.54,160.99 L557.47,162.31 L559.39,163.6 L561.32,164.87 L563.24,166.1 L565.17,167.31 L567.1,168.47 L569.02,169.6 L570.95,170.69 L572.87,171.74 L574.8,172.75 L576.72,173.71 L578.65,174.63 L580.57,175.5 L582.5,176.32 L584.42,177.08 L586.35,177.8 L588.28,178.47 L590.2,179.08 L592.13,179.63 L594.05,180.14 L595.98,180.58 L597.9,180.97 L599.83,181.31 L601.75,181.58 L603.68,181.8 L605.61,181.96 L607.53,182.06 L609.46,182.11 L611.38,182.09 L613.31,182.02 L615.23,181.89 L617.16,181.69 L619.08,181.44 L621.01,181.14 L622.94,180.77 L624.86,180.34 L626.79,179.86 L628.71,179.32 L630.64,178.73 L632.56,178.08 L634.49,177.37 L636.41,176.61 L638.34,175.8 L640.27,174.94 L642.19,174.03 L644.12,173.07 L646.04,172.06 L647.97,171.01 L649.89,169.92 L651.82,168.79 L653.74,167.63 L655.67,166.42 L657.59,165.19 L659.52,163.92 L661.45,162.63 L663.37,161.32 L665.3,159.98 L667.22,158.63 L669.15,157.26" class="gr"/>
<path d="M401.5,177.6 L403.43,176.06 L405.35,174.48 L407.28,172.86 L409.2,171.22 L411.13,169.54 L413.05,167.83 L414.98,166.1 L416.9,164.35 L418.83,162.59 L420.76,160.81 L422.68,159.02 L424.61,157.22 L426.53,155.42 L428.46,153.62 L430.38,151.83 L432.31,150.04 L434.23,148.27 L436.16,146.51 L438.08,144.77 L440.01,143.06 L441.94,141.37 L443.86,139.72 L445.79,138.11 L447.71,136.53 L449.64,135 L451.56,133.51 L453.49,132.08 L455.41,130.7 L457.34,129.38 L459.27,128.12 L461.19,126.93 L463.12,125.79 L465.04,124.73 L466.97,123.74 L468.89,122.82 L470.82,121.98 L472.74,121.21 L474.67,120.51 L476.6,119.9 L478.52,119.36 L480.45,118.9 L482.37,118.52 L484.3,118.22 L486.22,118 L488.15,117.85 L490.07,117.79 L492,117.8 L493.93,117.88 L495.85,118.05 L497.78,118.28 L499.7,118.59 L501.63,118.98 L503.55,119.43 L505.48,119.95 L507.4,120.54 L509.33,121.2 L511.25,121.92 L513.18,122.71 L515.11,123.55 L517.03,124.46 L518.96,125.43 L520.88,126.46 L522.81,127.54 L524.73,128.68 L526.66,129.87 L528.58,131.11 L530.51,132.4 L532.44,133.74 L534.36,135.13 L536.29,136.56 L538.21,138.04 L540.14,139.56 L542.06,141.12 L543.99,142.71 L545.91,144.34 L547.84,146 L549.77,147.69 L551.69,149.4 L553.62,151.14 L555.54,152.9 L557.47,154.68 L559.39,156.47 L561.32,158.27 L563.24,160.07 L565.17,161.88 L567.1,163.69 L569.02,165.49 L570.95,167.28 L572.87,169.05 L574.8,170.81 L576.72,172.54 L578.65,174.24 L580.57,175.91 L582.5,177.55 L584.42,179.14 L586.35,180.69 L588.28,182.19 L590.2,183.63 L592.13,185.02 L594.05,186.34 L595.98,187.6 L597.9,188.79 L599.83,189.91 L601.75,190.96 L603.68,191.93 L605.61,192.82 L607.53,193.63 L609.46,194.36 L611.38,195.01 L613.31,195.57 L615.23,196.05 L617.16,196.43 L619.08,196.74 L621.01,196.95 L622.94,197.08 L624.86,197.12 L626.79,197.08 L628.71,196.95 L630.64,196.74 L632.56,196.45 L634.49,196.08 L636.41,195.62 L638.34,195.09 L640.27,194.48 L642.19,193.8 L644.12,193.05 L646.04,192.22 L647.97,191.33 L649.89,190.37 L651.82,189.35 L653.74,188.26 L655.67,187.11 L657.59,185.91 L659.52,184.65 L661.45,183.34 L663.37,181.97 L665.3,180.56 L667.22,179.1 L669.15,177.6" class="gr"/>
<path d="M401.5,179.24 L403.43,178.14 L405.35,177.05 L407.28,175.96 L409.2,174.89 L411.13,173.84 L413.05,172.8 L414.98,171.78 L416.9,170.79 L418.83,169.82 L420.76,168.87 L422.68,167.95 L424.61,167.05 L426.53,166.18 L428.46,165.34 L430.38,164.53 L432.31,163.74 L434.23,162.98 L436.16,162.25 L438.08,161.54 L440.01,160.87 L441.94,160.22 L443.86,159.59 L445.79,159 L447.71,158.43 L449.64,157.89 L451.56,157.38 L453.49,156.89 L455.41,156.43 L457.34,156.01 L459.27,155.61 L461.19,155.25 L463.12,154.92 L465.04,154.62 L466.97,154.36 L468.89,154.13 L470.82,153.94 L472.74,153.8 L474.67,153.69 L476.6,153.63 L478.52,153.62 L480.45,153.65 L482.37,153.72 L484.3,153.85 L486.22,154.03 L488.15,154.26 L490.07,154.55 L492,154.88 L493.93,155.27 L495.85,155.72 L497.78,156.21 L499.7,156.76 L501.63,157.36 L503.55,158.01 L505.48,158.71 L507.4,159.46 L509.33,160.25 L511.25,161.08 L513.18,161.95 L515.11,162.86 L517.03,163.8 L518.96,164.77 L520.88,165.77 L522.81,166.8 L524.73,167.84 L526.66,168.9 L528.58,169.97 L530.51,171.06 L532.44,172.14 L534.36,173.23 L536.29,174.32 L538.21,175.41 L540.14,176.48 L542.06,177.55 L543.99,178.61 L545.91,179.65 L547.84,180.67 L549.77,181.67 L551.69,182.66 L553.62,183.62 L555.54,184.56 L557.47,185.47 L559.39,186.37 L561.32,187.23 L563.24,188.07 L565.17,188.89 L567.1,189.68 L569.02,190.44 L570.95,191.18 L572.87,191.89 L574.8,192.57 L576.72,193.23 L578.65,193.86 L580.57,194.46 L582.5,195.04 L584.42,195.59 L586.35,196.11 L588.28,196.61 L590.2,197.07 L592.13,197.5 L594.05,197.9 L595.98,198.27 L597.9,198.61 L599.83,198.9 L601.75,199.16 L603.68,199.38 L605.61,199.56 L607.53,199.7 L609.46,199.79 L611.38,199.84 L613.31,199.84 L615.23,199.79 L617.16,199.69 L619.08,199.53 L621.01,199.32 L622.94,199.06 L624.86,198.74 L626.79,198.37 L628.71,197.94 L630.64,197.46 L632.56,196.93 L634.49,196.34 L636.41,195.69 L638.34,195 L640.27,194.26 L642.19,193.47 L644.12,192.64 L646.04,191.76 L647.97,190.85 L649.89,189.9 L651.82,188.92 L653.74,187.91 L655.67,186.87 L657.59,185.82 L659.52,184.74 L661.45,183.65 L663.37,182.56 L665.3,181.45 L667.22,180.35 L669.15,179.24" class="gr"/>
<path d="M401.5,169.48 L403.43,170.71 L405.35,171.88 L407.28,172.98 L409.2,174.01 L411.13,174.98 L413.05,175.88 L414.98,176.7 L416.9,177.45 L418.83,178.12 L420.76,178.72 L422.68,179.25 L424.61,179.69 L426.53,180.06 L428.46,180.35 L430.38,180.57 L432.31,180.71 L434.23,180.77 L436.16,180.76 L438.08,180.68 L440.01,180.52 L441.94,180.29 L443.86,179.99 L445.79,179.63 L447.71,179.19 L449.64,178.69 L451.56,178.12 L453.49,177.48 L455.41,176.79 L457.34,176.03 L459.27,175.21 L461.19,174.33 L463.12,173.4 L465.04,172.41 L466.97,171.36 L468.89,170.26 L470.82,169.11 L472.74,167.91 L474.67,166.66 L476.6,165.37 L478.52,164.03 L480.45,162.64 L482.37,161.22 L484.3,159.76 L486.22,158.26 L488.15,156.73 L490.07,155.17 L492,153.58 L493.93,151.96 L495.85,150.33 L497.78,148.67 L499.7,147 L501.63,145.32 L503.55,143.63 L505.48,141.94 L507.4,140.25 L509.33,138.56 L511.25,136.88 L513.18,135.22 L515.11,133.57 L517.03,131.94 L518.96,130.33 L520.88,128.76 L522.81,127.22 L524.73,125.71 L526.66,124.25 L528.58,122.83 L530.51,121.46 L532.44,120.15 L534.36,118.88 L536.29,117.68 L538.21,116.53 L540.14,115.45 L542.06,114.43 L543.99,113.48 L545.91,112.6 L547.84,111.78 L549.77,111.04 L551.69,110.37 L553.62,109.77 L555.54,109.25 L557.47,108.79 L559.39,108.41 L561.32,108.1 L563.24,107.87 L565.17,107.71 L567.1,107.61 L569.02,107.59 L570.95,107.64 L572.87,107.75 L574.8,107.94 L576.72,108.19 L578.65,108.5 L580.57,108.88 L582.5,109.33 L584.42,109.83 L586.35,110.4 L588.28,111.03 L590.2,111.71 L592.13,112.46 L594.05,113.26 L595.98,114.12 L597.9,115.03 L599.83,116 L601.75,117.02 L603.68,118.09 L605.61,119.21 L607.53,120.39 L609.46,121.61 L611.38,122.88 L613.31,124.19 L615.23,125.55 L617.16,126.95 L619.08,128.39 L621.01,129.86 L622.94,131.38 L624.86,132.92 L626.79,134.5 L628.71,136.1 L630.64,137.73 L632.56,139.38 L634.49,141.05 L636.41,142.73 L638.34,144.42 L640.27,146.12 L642.19,147.82 L644.12,149.52 L646.04,151.21 L647.97,152.9 L649.89,154.56 L651.82,156.21 L653.74,157.84 L655.67,159.43 L657.59,161 L659.52,162.53 L661.45,164.01 L663.37,165.46 L665.3,166.85 L667.22,168.19 L669.15,169.48" class="gr"/>
<path d="M401.5,182.4 L403.43,183.35 L405.35,184.32 L407.28,185.32 L409.2,186.35 L411.13,187.4 L413.05,188.47 L414.98,189.55 L416.9,190.66 L418.83,191.77 L420.76,192.9 L422.68,194.03 L424.61,195.17 L426.53,196.32 L428.46,197.46 L430.38,198.61 L432.31,199.75 L434.23,200.89 L436.16,202.03 L438.08,203.16 L440.01,204.27 L441.94,205.38 L443.86,206.48 L445.79,207.56 L447.71,208.63 L449.64,209.68 L451.56,210.72 L453.49,211.73 L455.41,212.73 L457.34,213.7 L459.27,214.65 L461.19,215.57 L463.12,216.47 L465.04,217.34 L466.97,218.18 L468.89,218.99 L470.82,219.77 L472.74,220.51 L474.67,221.21 L476.6,221.88 L478.52,222.5 L480.45,223.09 L482.37,223.63 L484.3,224.13 L486.22,224.58 L488.15,224.98 L490.07,225.33 L492,225.63 L493.93,225.87 L495.85,226.07 L497.78,226.21 L499.7,226.29 L501.63,226.32 L503.55,226.29 L505.48,226.21 L507.4,226.06 L509.33,225.86 L511.25,225.61 L513.18,225.29 L515.11,224.93 L517.03,224.5 L518.96,224.03 L520.88,223.5 L522.81,222.92 L524.73,222.29 L526.66,221.61 L528.58,220.89 L530.51,220.12 L532.44,219.31 L534.36,218.46 L536.29,217.57 L538.21,216.65 L540.14,215.69 L542.06,214.71 L543.99,213.69 L545.91,212.65 L547.84,211.59 L549.77,210.51 L551.69,209.4 L553.62,208.28 L555.54,207.15 L557.47,206.01 L559.39,204.85 L561.32,203.69 L563.24,202.53 L565.17,201.36 L567.1,200.19 L569.02,199.02 L570.95,197.86 L572.87,196.69 L574.8,195.54 L576.72,194.4 L578.65,193.26 L580.57,192.14 L582.5,191.03 L584.42,189.94 L586.35,188.86 L588.28,187.81 L590.2,186.77 L592.13,185.76 L594.05,184.78 L595.98,183.82 L597.9,182.89 L599.83,181.99 L601.75,181.13 L603.68,180.3 L605.61,179.5 L607.53,178.75 L609.46,178.04 L611.38,177.37 L613.31,176.74 L615.23,176.17 L617.16,175.64 L619.08,175.16 L621.01,174.73 L622.94,174.36 L624.86,174.04 L626.79,173.78 L628.71,173.57 L630.64,173.43 L632.56,173.34 L634.49,173.31 L636.41,173.35 L638.34,173.44 L640.27,173.59 L642.19,173.8 L644.12,174.07 L646.04,174.4 L647.97,174.79 L649.89,175.23 L651.82,175.73 L653.74,176.29 L655.67,176.89 L657.59,177.55 L659.52,178.25 L661.45,179 L663.37,179.79 L665.3,180.62 L667.22,181.5 L669.15,182.4" class="gr"/>
<path d="M401.5,215.88 L403.43,216.07 L405.35,216.22 L407.28,216.32 L409.2,216.39 L411.13,216.41 L413.05,216.4 L414.98,216.33 L416.9,216.23 L418.83,216.08 L420.76,215.89 L422.68,215.65 L424.61,215.37 L426.53,215.04 L428.46,214.67 L430.38,214.26 L432.31,213.8 L434.23,213.3 L436.16,212.75 L438.08,212.17 L440.01,211.54 L441.94,210.87 L443.86,210.17 L445.79,209.43 L447.71,208.66 L449.64,207.86 L451.56,207.02 L453.49,206.16 L455.41,205.28 L457.34,204.37 L459.27,203.44 L461.19,202.5 L463.12,201.54 L465.04,200.58 L466.97,199.6 L468.89,198.62 L470.82,197.64 L472.74,196.65 L474.67,195.67 L476.6,194.7 L478.52,193.73 L480.45,192.77 L482.37,191.83 L484.3,190.9 L486.22,189.98 L488.15,189.09 L490.07,188.21 L492,187.36 L493.93,186.52 L495.85,185.71 L497.78,184.93 L499.7,184.17 L501.63,183.43 L503.55,182.72 L505.48,182.04 L507.4,181.39 L509.33,180.76 L511.25,180.16 L513.18,179.59 L515.11,179.04 L517.03,178.53 L518.96,178.04 L520.88,177.59 L522.81,177.16 L524.73,176.76 L526.66,176.39 L528.58,176.05 L530.51,175.74 L532.44,175.47 L534.36,175.22 L536.29,175.01 L538.21,174.83 L540.14,174.69 L542.06,174.58 L543.99,174.51 L545.91,174.47 L547.84,174.47 L549.77,174.51 L551.69,174.59 L553.62,174.71 L555.54,174.87 L557.47,175.08 L559.39,175.32 L561.32,175.61 L563.24,175.94 L565.17,176.32 L567.1,176.73 L569.02,177.19 L570.95,177.7 L572.87,178.24 L574.8,178.83 L576.72,179.45 L578.65,180.12 L580.57,180.82 L582.5,181.56 L584.42,182.34 L586.35,183.14 L588.28,183.98 L590.2,184.85 L592.13,185.74 L594.05,186.65 L595.98,187.59 L597.9,188.54 L599.83,189.51 L601.75,190.49 L603.68,191.48 L605.61,192.47 L607.53,193.47 L609.46,194.48 L611.38,195.48 L613.31,196.47 L615.23,197.46 L617.16,198.44 L619.08,199.41 L621.01,200.37 L622.94,201.31 L624.86,202.23 L626.79,203.14 L628.71,204.02 L630.64,204.88 L632.56,205.72 L634.49,206.53 L636.41,207.31 L638.34,208.07 L640.27,208.8 L642.19,209.5 L644.12,210.17 L646.04,210.81 L647.97,211.42 L649.89,212 L651.82,212.54 L653.74,213.05 L655.67,213.53 L657.59,213.97 L659.52,214.38 L661.45,214.76 L663.37,215.09 L665.3,215.39 L667.22,215.66 L669.15,215.88" class="gr"/>
<path d="M401.5,227.83 L403.43,228.99 L405.35,230.16 L407.28,231.34 L409.2,232.53 L411.13,233.72 L413.05,234.93 L414.98,236.13 L416.9,237.33 L418.83,238.54 L420.76,239.74 L422.68,240.93 L424.61,242.12 L426.53,243.3 L428.46,244.47 L430.38,245.63 L432.31,246.78 L434.23,247.91 L436.16,249.02 L438.08,250.12 L440.01,251.19 L441.94,252.25 L443.86,253.28 L445.79,254.29 L447.71,255.27 L449.64,256.23 L451.56,257.15 L453.49,258.04 L455.41,258.9 L457.34,259.72 L459.27,260.51 L461.19,261.26 L463.12,261.96 L465.04,262.62 L466.97,263.24 L468.89,263.81 L470.82,264.33 L472.74,264.79 L474.67,265.21 L476.6,265.57 L478.52,265.87 L480.45,266.11 L482.37,266.29 L484.3,266.41 L486.22,266.47 L488.15,266.47 L490.07,266.39 L492,266.26 L493.93,266.06 L495.85,265.79 L497.78,265.46 L499.7,265.06 L501.63,264.59 L503.55,264.06 L505.48,263.47 L507.4,262.82 L509.33,262.1 L511.25,261.33 L513.18,260.5 L515.11,259.61 L517.03,258.68 L518.96,257.69 L520.88,256.66 L522.81,255.58 L524.73,254.46 L526.66,253.3 L528.58,252.11 L530.51,250.89 L532.44,249.64 L534.36,248.37 L536.29,247.08 L538.21,245.77 L540.14,244.44 L542.06,243.11 L543.99,241.77 L545.91,240.42 L547.84,239.08 L549.77,237.74 L551.69,236.4 L553.62,235.08 L555.54,233.76 L557.47,232.46 L559.39,231.18 L561.32,229.92 L563.24,228.68 L565.17,227.46 L567.1,226.27 L569.02,225.11 L570.95,223.98 L572.87,222.88 L574.8,221.81 L576.72,220.78 L578.65,219.79 L580.57,218.84 L582.5,217.92 L584.42,217.05 L586.35,216.22 L588.28,215.43 L590.2,214.69 L592.13,213.99 L594.05,213.34 L595.98,212.74 L597.9,212.19 L599.83,211.69 L601.75,211.24 L603.68,210.84 L605.61,210.5 L607.53,210.21 L609.46,209.97 L611.38,209.78 L613.31,209.66 L615.23,209.58 L617.16,209.57 L619.08,209.61 L621.01,209.7 L622.94,209.86 L624.86,210.06 L626.79,210.33 L628.71,210.65 L630.64,211.02 L632.56,211.45 L634.49,211.93 L636.41,212.46 L638.34,213.04 L640.27,213.68 L642.19,214.36 L644.12,215.08 L646.04,215.85 L647.97,216.67 L649.89,217.52 L651.82,218.42 L653.74,219.35 L655.67,220.31 L657.59,221.31 L659.52,222.33 L661.45,223.39 L663.37,224.47 L665.3,225.57 L667.22,226.69 L669.15,227.83" class="gr"/>
<path d="M401.5,231.35 L403.43,231.7 L405.35,232.01 L407.28,232.29 L409.2,232.52 L411.13,232.71 L413.05,232.86 L414.98,232.97 L416.9,233.04 L418.83,233.07 L420.76,233.06 L422.68,233 L424.61,232.91 L426.53,232.78 L428.46,232.62 L430.38,232.41 L432.31,232.18 L434.23,231.91 L436.16,231.61 L438.08,231.29 L440.01,230.93 L441.94,230.55 L443.86,230.14 L445.79,229.71 L447.71,229.25 L449.64,228.77 L451.56,228.28 L453.49,227.76 L455.41,227.23 L457.34,226.68 L459.27,226.11 L461.19,225.53 L463.12,224.93 L465.04,224.32 L466.97,223.69 L468.89,223.05 L470.82,222.4 L472.74,221.74 L474.67,221.07 L476.6,220.38 L478.52,219.69 L480.45,218.98 L482.37,218.27 L484.3,217.55 L486.22,216.83 L488.15,216.1 L490.07,215.37 L492,214.63 L493.93,213.9 L495.85,213.16 L497.78,212.43 L499.7,211.71 L501.63,210.99 L503.55,210.28 L505.48,209.58 L507.4,208.9 L509.33,208.23 L511.25,207.58 L513.18,206.96 L515.11,206.35 L517.03,205.77 L518.96,205.22 L520.88,204.7 L522.81,204.21 L524.73,203.75 L526.66,203.32 L528.58,202.94 L530.51,202.59 L532.44,202.27 L534.36,202 L536.29,201.77 L538.21,201.57 L540.14,201.42 L542.06,201.3 L543.99,201.23 L545.91,201.19 L547.84,201.19 L549.77,201.23 L551.69,201.3 L553.62,201.4 L555.54,201.54 L557.47,201.71 L559.39,201.9 L561.32,202.12 L563.24,202.37 L565.17,202.64 L567.1,202.93 L569.02,203.25 L570.95,203.58 L572.87,203.92 L574.8,204.28 L576.72,204.66 L578.65,205.04 L580.57,205.44 L582.5,205.85 L584.42,206.26 L586.35,206.69 L588.28,207.13 L590.2,207.57 L592.13,208.02 L594.05,208.48 L595.98,208.95 L597.9,209.43 L599.83,209.91 L601.75,210.41 L603.68,210.92 L605.61,211.44 L607.53,211.97 L609.46,212.51 L611.38,213.06 L613.31,213.63 L615.23,214.21 L617.16,214.8 L619.08,215.4 L621.01,216.02 L622.94,216.65 L624.86,217.29 L626.79,217.94 L628.71,218.61 L630.64,219.28 L632.56,219.96 L634.49,220.64 L636.41,221.33 L638.34,222.02 L640.27,222.71 L642.19,223.4 L644.12,224.08 L646.04,224.76 L647.97,225.42 L649.89,226.07 L651.82,226.71 L653.74,227.33 L655.67,227.93 L657.59,228.51 L659.52,229.06 L661.45,229.58 L663.37,230.07 L665.3,230.53 L667.22,230.96 L669.15,231.35" class="gr"/>
<path d="M401.5,183.13 L403.43,184.01 L405.35,184.88 L407.28,185.76 L409.2,186.62 L411.13,187.48 L413.05,188.34 L414.98,189.18 L416.9,190 L418.83,190.82 L420.76,191.62 L422.68,192.4 L424.61,193.16 L426.53,193.9 L428.46,194.62 L430.38,195.32 L432.31,195.99 L434.23,196.63 L436.16,197.25 L438.08,197.83 L440.01,198.39 L441.94,198.91 L443.86,199.4 L445.79,199.86 L447.71,200.28 L449.64,200.67 L451.56,201.01 L453.49,201.32 L455.41,201.59 L457.34,201.82 L459.27,202.01 L461.19,202.15 L463.12,202.26 L465.04,202.32 L466.97,202.35 L468.89,202.33 L470.82,202.26 L472.74,202.16 L474.67,202.01 L476.6,201.82 L478.52,201.59 L480.45,201.31 L482.37,201 L484.3,200.64 L486.22,200.25 L488.15,199.81 L490.07,199.34 L492,198.83 L493.93,198.29 L495.85,197.71 L497.78,197.09 L499.7,196.45 L501.63,195.77 L503.55,195.07 L505.48,194.33 L507.4,193.57 L509.33,192.79 L511.25,191.98 L513.18,191.16 L515.11,190.31 L517.03,189.45 L518.96,188.57 L520.88,187.68 L522.81,186.78 L524.73,185.87 L526.66,184.95 L528.58,184.02 L530.51,183.1 L532.44,182.17 L534.36,181.25 L536.29,180.32 L538.21,179.4 L540.14,178.49 L542.06,177.59 L543.99,176.7 L545.91,175.83 L547.84,174.96 L549.77,174.12 L551.69,173.29 L553.62,172.48 L555.54,171.7 L557.47,170.94 L559.39,170.2 L561.32,169.49 L563.24,168.81 L565.17,168.15 L567.1,167.53 L569.02,166.94 L570.95,166.38 L572.87,165.85 L574.8,165.36 L576.72,164.9 L578.65,164.48 L580.57,164.1 L582.5,163.76 L584.42,163.45 L586.35,163.18 L588.28,162.95 L590.2,162.76 L592.13,162.61 L594.05,162.49 L595.98,162.42 L597.9,162.39 L599.83,162.39 L601.75,162.44 L603.68,162.52 L605.61,162.65 L607.53,162.81 L609.46,163.01 L611.38,163.24 L613.31,163.52 L615.23,163.83 L617.16,164.17 L619.08,164.55 L621.01,164.97 L622.94,165.41 L624.86,165.89 L626.79,166.4 L628.71,166.95 L630.64,167.52 L632.56,168.11 L634.49,168.74 L636.41,169.39 L638.34,170.07 L640.27,170.77 L642.19,171.49 L644.12,172.23 L646.04,173 L647.97,173.78 L649.89,174.57 L651.82,175.38 L653.74,176.21 L655.67,177.05 L657.59,177.9 L659.52,178.76 L661.45,179.62 L663.37,180.49 L665.3,181.37 L667.22,182.25 L669.15,183.13" class="bl"/>
<path d="M231.4,521.87 L233.33,521.59 L235.25,521.31 L237.18,521.05 L239.1,520.8 L241.03,520.57 L242.95,520.35 L244.88,520.14 L246.8,519.96 L248.73,519.79 L250.66,519.63 L252.58,519.49 L254.51,519.37 L256.43,519.27 L258.36,519.18 L260.28,519.12 L262.21,519.07 L264.13,519.03 L266.06,519.02 L267.98,519.02 L269.91,519.04 L271.84,519.07 L273.76,519.12 L275.69,519.19 L277.61,519.28 L279.54,519.38 L281.46,519.5 L283.39,519.63 L285.31,519.78 L287.24,519.94 L289.17,520.12 L291.09,520.31 L293.02,520.51 L294.94,520.73 L296.87,520.96 L298.79,521.2 L300.72,521.45 L302.64,521.71 L304.57,521.98 L306.5,522.26 L308.42,522.55 L310.35,522.84 L312.27,523.14 L314.2,523.45 L316.12,523.77 L318.05,524.09 L319.97,524.42 L321.9,524.75 L323.83,525.08 L325.75,525.42 L327.68,525.76 L329.6,526.1 L331.53,526.44 L333.45,526.78 L335.38,527.13 L337.3,527.47 L339.23,527.81 L341.15,528.15 L343.08,528.49 L345.01,528.82 L346.93,529.15 L348.86,529.48 L350.78,529.8 L352.71,530.12 L354.63,530.43 L356.56,530.74 L358.48,531.04 L360.41,531.33 L362.34,531.62 L364.26,531.9 L366.19,532.16 L368.11,532.42 L370.04,532.68 L371.96,532.92 L373.89,533.15 L375.81,533.37 L377.74,533.57 L379.67,533.77 L381.59,533.96 L383.52,534.13 L385.44,534.29 L387.37,534.44 L389.29,534.57 L391.22,534.69 L393.14,534.79 L395.07,534.88 L397,534.96 L398.92,535.02 L400.85,535.07 L402.77,535.1 L404.7,535.11 L406.62,535.11 L408.55,535.1 L410.47,535.06 L412.4,535.01 L414.32,534.95 L416.25,534.87 L418.18,534.77 L420.1,534.66 L422.03,534.53 L423.95,534.38 L425.88,534.22 L427.8,534.04 L429.73,533.85 L431.65,533.65 L433.58,533.43 L435.51,533.19 L437.43,532.94 L439.36,532.68 L441.28,532.41 L443.21,532.12 L445.13,531.82 L447.06,531.51 L448.98,531.19 L450.91,530.86 L452.84,530.53 L454.76,530.18 L456.69,529.82 L458.61,529.46 L460.54,529.1 L462.46,528.72 L464.39,528.35 L466.31,527.97 L468.24,527.59 L470.17,527.2 L472.09,526.82 L474.02,526.43 L475.94,526.05 L477.87,525.67 L479.79,525.29 L481.72,524.92 L483.64,524.55 L485.57,524.19 L487.49,523.83 L489.42,523.48 L491.35,523.14 L493.27,522.81 L495.2,522.48 L497.12,522.17 L499.05,521.87" class="rd"/>
<path d="M231.4,529.89 L233.33,530.37 L235.25,530.87 L237.18,531.36 L239.1,531.86 L241.03,532.36 L242.95,532.86 L244.88,533.35 L246.8,533.84 L248.73,534.32 L250.66,534.8 L252.58,535.26 L254.51,535.71 L256.43,536.15 L258.36,536.57 L260.28,536.98 L262.21,537.36 L264.13,537.73 L266.06,538.08 L267.98,538.41 L269.91,538.72 L271.84,539 L273.76,539.26 L275.69,539.49 L277.61,539.7 L279.54,539.88 L281.46,540.04 L283.39,540.17 L285.31,540.28 L287.24,540.36 L289.17,540.41 L291.09,540.44 L293.02,540.44 L294.94,540.42 L296.87,540.37 L298.79,540.3 L300.72,540.21 L302.64,540.09 L304.57,539.96 L306.5,539.8 L308.42,539.63 L310.35,539.43 L312.27,539.22 L314.2,539 L316.12,538.76 L318.05,538.51 L319.97,538.24 L321.9,537.97 L323.83,537.68 L325.75,537.39 L327.68,537.09 L329.6,536.79 L331.53,536.47 L333.45,536.16 L335.38,535.84 L337.3,535.52 L339.23,535.2 L341.15,534.88 L343.08,534.56 L345.01,534.24 L346.93,533.93 L348.86,533.61 L350.78,533.3 L352.71,533 L354.63,532.69 L356.56,532.39 L358.48,532.1 L360.41,531.81 L362.34,531.52 L364.26,531.24 L366.19,530.96 L368.11,530.69 L370.04,530.42 L371.96,530.15 L373.89,529.89 L375.81,529.63 L377.74,529.38 L379.67,529.13 L381.59,528.88 L383.52,528.64 L385.44,528.4 L387.37,528.16 L389.29,527.92 L391.22,527.69 L393.14,527.46 L395.07,527.23 L397,527 L398.92,526.77 L400.85,526.55 L402.77,526.32 L404.7,526.1 L406.62,525.89 L408.55,525.67 L410.47,525.46 L412.4,525.25 L414.32,525.05 L416.25,524.85 L418.18,524.65 L420.1,524.46 L422.03,524.28 L423.95,524.11 L425.88,523.94 L427.8,523.78 L429.73,523.63 L431.65,523.49 L433.58,523.36 L435.51,523.25 L437.43,523.14 L439.36,523.06 L441.28,522.98 L443.21,522.92 L445.13,522.88 L447.06,522.86 L448.98,522.85 L450.91,522.87 L452.84,522.9 L454.76,522.96 L456.69,523.03 L458.61,523.13 L460.54,523.24 L462.46,523.38 L464.39,523.54 L466.31,523.73 L468.24,523.94 L470.17,524.16 L472.09,524.42 L474.02,524.69 L475.94,524.98 L477.87,525.3 L479.79,525.63 L481.72,525.99 L483.64,526.36 L485.57,526.75 L487.49,527.16 L489.42,527.58 L491.35,528.02 L493.27,528.47 L495.2,528.93 L497.12,529.41 L499.05,529.89" class="rd"/>
<path d="M231.4,539.16 L233.33,539.18 L235.25,539.2 L237.18,539.23 L239.1,539.26 L241.03,539.29 L242.95,539.32 L244.88,539.36 L246.8,539.41 L248.73,539.46 L250.66,539.52 L252.58,539.59 L254.51,539.67 L256.43,539.76 L258.36,539.86 L260.28,539.96 L262.21,540.08 L264.13,540.21 L266.06,540.36 L267.98,540.51 L269.91,540.67 L271.84,540.85 L273.76,541.04 L275.69,541.23 L277.61,541.44 L279.54,541.65 L281.46,541.88 L283.39,542.11 L285.31,542.35 L287.24,542.59 L289.17,542.84 L291.09,543.09 L293.02,543.35 L294.94,543.6 L296.87,543.86 L298.79,544.11 L300.72,544.36 L302.64,544.61 L304.57,544.84 L306.5,545.08 L308.42,545.3 L310.35,545.51 L312.27,545.71 L314.2,545.9 L316.12,546.07 L318.05,546.23 L319.97,546.37 L321.9,546.5 L323.83,546.6 L325.75,546.69 L327.68,546.75 L329.6,546.79 L331.53,546.81 L333.45,546.81 L335.38,546.79 L337.3,546.74 L339.23,546.68 L341.15,546.59 L343.08,546.47 L345.01,546.34 L346.93,546.18 L348.86,546 L350.78,545.81 L352.71,545.59 L354.63,545.35 L356.56,545.1 L358.48,544.83 L360.41,544.55 L362.34,544.26 L364.26,543.95 L366.19,543.63 L368.11,543.3 L370.04,542.97 L371.96,542.63 L373.89,542.28 L375.81,541.94 L377.74,541.59 L379.67,541.25 L381.59,540.9 L383.52,540.56 L385.44,540.23 L387.37,539.9 L389.29,539.59 L391.22,539.28 L393.14,538.99 L395.07,538.7 L397,538.43 L398.92,538.18 L400.85,537.94 L402.77,537.72 L404.7,537.51 L406.62,537.33 L408.55,537.16 L410.47,537 L412.4,536.87 L414.32,536.76 L416.25,536.66 L418.18,536.58 L420.1,536.52 L422.03,536.48 L423.95,536.45 L425.88,536.44 L427.8,536.44 L429.73,536.46 L431.65,536.5 L433.58,536.54 L435.51,536.6 L437.43,536.67 L439.36,536.75 L441.28,536.84 L443.21,536.93 L445.13,537.03 L447.06,537.14 L448.98,537.25 L450.91,537.36 L452.84,537.47 L454.76,537.59 L456.69,537.71 L458.61,537.82 L460.54,537.93 L462.46,538.04 L464.39,538.15 L466.31,538.25 L468.24,538.34 L470.17,538.43 L472.09,538.52 L474.02,538.6 L475.94,538.67 L477.87,538.74 L479.79,538.8 L481.72,538.86 L483.64,538.91 L485.57,538.95 L487.49,538.99 L489.42,539.03 L491.35,539.06 L493.27,539.09 L495.2,539.11 L497.12,539.14 L499.05,539.16" class="rd"/>
<path d="M231.4,544.17 L233.33,544.1 L235.25,544.06 L237.18,544.02 L239.1,544 L241.03,544 L242.95,544.01 L244.88,544.03 L246.8,544.07 L248.73,544.13 L250.66,544.2 L252.58,544.28 L254.51,544.38 L256.43,544.49 L258.36,544.61 L260.28,544.75 L262.21,544.9 L264.13,545.06 L266.06,545.22 L267.98,545.4 L269.91,545.58 L271.84,545.77 L273.76,545.96 L275.69,546.15 L277.61,546.35 L279.54,546.55 L281.46,546.74 L283.39,546.93 L285.31,547.12 L287.24,547.31 L289.17,547.49 L291.09,547.66 L293.02,547.82 L294.94,547.98 L296.87,548.12 L298.79,548.25 L300.72,548.37 L302.64,548.48 L304.57,548.57 L306.5,548.65 L308.42,548.72 L310.35,548.77 L312.27,548.8 L314.2,548.82 L316.12,548.82 L318.05,548.81 L319.97,548.79 L321.9,548.75 L323.83,548.69 L325.75,548.62 L327.68,548.54 L329.6,548.45 L331.53,548.35 L333.45,548.23 L335.38,548.11 L337.3,547.98 L339.23,547.84 L341.15,547.7 L343.08,547.55 L345.01,547.4 L346.93,547.25 L348.86,547.1 L350.78,546.94 L352.71,546.79 L354.63,546.64 L356.56,546.5 L358.48,546.36 L360.41,546.22 L362.34,546.1 L364.26,545.98 L366.19,545.87 L368.11,545.77 L370.04,545.68 L371.96,545.6 L373.89,545.53 L375.81,545.48 L377.74,545.44 L379.67,545.41 L381.59,545.39 L383.52,545.38 L385.44,545.39 L387.37,545.4 L389.29,545.43 L391.22,545.47 L393.14,545.53 L395.07,545.59 L397,545.66 L398.92,545.73 L400.85,545.82 L402.77,545.91 L404.7,546.01 L406.62,546.11 L408.55,546.21 L410.47,546.32 L412.4,546.43 L414.32,546.54 L416.25,546.64 L418.18,546.75 L420.1,546.85 L422.03,546.94 L423.95,547.03 L425.88,547.11 L427.8,547.19 L429.73,547.25 L431.65,547.31 L433.58,547.36 L435.51,547.39 L437.43,547.42 L439.36,547.43 L441.28,547.43 L443.21,547.42 L445.13,547.4 L447.06,547.37 L448.98,547.32 L450.91,547.26 L452.84,547.19 L454.76,547.1 L456.69,547.01 L458.61,546.91 L460.54,546.79 L462.46,546.67 L464.39,546.54 L466.31,546.41 L468.24,546.26 L470.17,546.12 L472.09,545.97 L474.02,545.82 L475.94,545.66 L477.87,545.51 L479.79,545.36 L481.72,545.21 L483.64,545.06 L485.57,544.92 L487.49,544.78 L489.42,544.66 L491.35,544.54 L493.27,544.43 L495.2,544.33 L497.12,544.24 L499.05,544.17" class="rd"/>
<path d="M231.4,547.89 L233.33,547.82 L235.25,547.76 L237.18,547.73 L239.1,547.72 L241.03,547.73 L242.95,547.76 L244.88,547.81 L246.8,547.88 L248.73,547.96 L250.66,548.07 L252.58,548.19 L254.51,548.32 L256.43,548.47 L258.36,548.63 L260.28,548.8 L262.21,548.98 L264.13,549.16 L266.06,549.35 L267.98,549.55 L269.91,549.74 L271.84,549.93 L273.76,550.13 L275.69,550.31 L277.61,550.49 L279.54,550.66 L281.46,550.82 L283.39,550.97 L285.31,551.11 L287.24,551.23 L289.17,551.33 L291.09,551.42 L293.02,551.49 L294.94,551.54 L296.87,551.57 L298.79,551.57 L300.72,551.56 L302.64,551.52 L304.57,551.47 L306.5,551.39 L308.42,551.29 L310.35,551.17 L312.27,551.03 L314.2,550.87 L316.12,550.69 L318.05,550.49 L319.97,550.28 L321.9,550.06 L323.83,549.82 L325.75,549.57 L327.68,549.31 L329.6,549.05 L331.53,548.78 L333.45,548.5 L335.38,548.23 L337.3,547.95 L339.23,547.68 L341.15,547.42 L343.08,547.16 L345.01,546.91 L346.93,546.67 L348.86,546.45 L350.78,546.24 L352.71,546.04 L354.63,545.87 L356.56,545.72 L358.48,545.58 L360.41,545.47 L362.34,545.38 L364.26,545.32 L366.19,545.28 L368.11,545.26 L370.04,545.27 L371.96,545.31 L373.89,545.37 L375.81,545.46 L377.74,545.57 L379.67,545.7 L381.59,545.86 L383.52,546.04 L385.44,546.24 L387.37,546.46 L389.29,546.69 L391.22,546.95 L393.14,547.22 L395.07,547.5 L397,547.79 L398.92,548.09 L400.85,548.39 L402.77,548.7 L404.7,549.01 L406.62,549.33 L408.55,549.64 L410.47,549.94 L412.4,550.24 L414.32,550.53 L416.25,550.81 L418.18,551.08 L420.1,551.33 L422.03,551.57 L423.95,551.79 L425.88,551.99 L427.8,552.17 L429.73,552.32 L431.65,552.46 L433.58,552.57 L435.51,552.66 L437.43,552.73 L439.36,552.77 L441.28,552.79 L443.21,552.78 L445.13,552.75 L447.06,552.7 L448.98,552.63 L450.91,552.53 L452.84,552.41 L454.76,552.28 L456.69,552.12 L458.61,551.95 L460.54,551.77 L462.46,551.57 L464.39,551.36 L466.31,551.14 L468.24,550.92 L470.17,550.69 L472.09,550.45 L474.02,550.22 L475.94,549.98 L477.87,549.75 L479.79,549.52 L481.72,549.3 L483.64,549.09 L485.57,548.89 L487.49,548.7 L489.42,548.52 L491.35,548.36 L493.27,548.22 L495.2,548.09 L497.12,547.98 L499.05,547.89" class="rd"/>
<path d="M231.4,551.74 L233.33,551.94 L235.25,552.13 L237.18,552.29 L239.1,552.42 L241.03,552.53 L242.95,552.6 L244.88,552.65 L246.8,552.68 L248.73,552.67 L250.66,552.63 L252.58,552.56 L254.51,552.47 L256.43,552.34 L258.36,552.19 L260.28,552.01 L262.21,551.8 L264.13,551.56 L266.06,551.3 L267.98,551.01 L269.91,550.7 L271.84,550.37 L273.76,550.02 L275.69,549.64 L277.61,549.25 L279.54,548.85 L281.46,548.42 L283.39,547.99 L285.31,547.54 L287.24,547.09 L289.17,546.62 L291.09,546.16 L293.02,545.68 L294.94,545.21 L296.87,544.73 L298.79,544.26 L300.72,543.79 L302.64,543.32 L304.57,542.86 L306.5,542.41 L308.42,541.97 L310.35,541.54 L312.27,541.12 L314.2,540.71 L316.12,540.32 L318.05,539.94 L319.97,539.58 L321.9,539.24 L323.83,538.91 L325.75,538.6 L327.68,538.31 L329.6,538.04 L331.53,537.79 L333.45,537.55 L335.38,537.34 L337.3,537.14 L339.23,536.97 L341.15,536.81 L343.08,536.67 L345.01,536.55 L346.93,536.44 L348.86,536.35 L350.78,536.27 L352.71,536.21 L354.63,536.17 L356.56,536.13 L358.48,536.11 L360.41,536.1 L362.34,536.11 L364.26,536.12 L366.19,536.14 L368.11,536.17 L370.04,536.2 L371.96,536.25 L373.89,536.3 L375.81,536.35 L377.74,536.41 L379.67,536.48 L381.59,536.55 L383.52,536.62 L385.44,536.7 L387.37,536.78 L389.29,536.86 L391.22,536.94 L393.14,537.03 L395.07,537.12 L397,537.22 L398.92,537.32 L400.85,537.42 L402.77,537.52 L404.7,537.63 L406.62,537.75 L408.55,537.87 L410.47,537.99 L412.4,538.12 L414.32,538.26 L416.25,538.41 L418.18,538.56 L420.1,538.72 L422.03,538.89 L423.95,539.07 L425.88,539.26 L427.8,539.47 L429.73,539.68 L431.65,539.9 L433.58,540.14 L435.51,540.38 L437.43,540.64 L439.36,540.91 L441.28,541.2 L443.21,541.49 L445.13,541.8 L447.06,542.12 L448.98,542.45 L450.91,542.79 L452.84,543.14 L454.76,543.5 L456.69,543.87 L458.61,544.25 L460.54,544.63 L462.46,545.03 L464.39,545.42 L466.31,545.82 L468.24,546.22 L470.17,546.63 L472.09,547.03 L474.02,547.43 L475.94,547.82 L477.87,548.22 L479.79,548.6 L481.72,548.98 L483.64,549.34 L485.57,549.7 L487.49,550.04 L489.42,550.37 L491.35,550.68 L493.27,550.98 L495.2,551.25 L497.12,551.5 L499.05,551.74" class="rd"/>
<path d="M231.4,556.38 L233.33,556.58 L235.25,556.76 L237.18,556.93 L239.1,557.09 L241.03,557.22 L242.95,557.34 L244.88,557.44 L246.8,557.53 L248.73,557.6 L250.66,557.65 L252.58,557.69 L254.51,557.72 L256.43,557.73 L258.36,557.72 L260.28,557.71 L262.21,557.68 L264.13,557.64 L266.06,557.59 L267.98,557.53 L269.91,557.47 L271.84,557.39 L273.76,557.31 L275.69,557.22 L277.61,557.13 L279.54,557.03 L281.46,556.93 L283.39,556.83 L285.31,556.72 L287.24,556.61 L289.17,556.5 L291.09,556.39 L293.02,556.28 L294.94,556.17 L296.87,556.06 L298.79,555.95 L300.72,555.85 L302.64,555.74 L304.57,555.63 L306.5,555.53 L308.42,555.43 L310.35,555.32 L312.27,555.22 L314.2,555.12 L316.12,555.02 L318.05,554.92 L319.97,554.82 L321.9,554.72 L323.83,554.61 L325.75,554.51 L327.68,554.4 L329.6,554.29 L331.53,554.18 L333.45,554.06 L335.38,553.94 L337.3,553.81 L339.23,553.68 L341.15,553.54 L343.08,553.4 L345.01,553.25 L346.93,553.09 L348.86,552.93 L350.78,552.76 L352.71,552.58 L354.63,552.39 L356.56,552.2 L358.48,552 L360.41,551.8 L362.34,551.58 L364.26,551.36 L366.19,551.14 L368.11,550.91 L370.04,550.68 L371.96,550.44 L373.89,550.2 L375.81,549.95 L377.74,549.71 L379.67,549.46 L381.59,549.21 L383.52,548.97 L385.44,548.72 L387.37,548.48 L389.29,548.25 L391.22,548.02 L393.14,547.8 L395.07,547.58 L397,547.38 L398.92,547.18 L400.85,547 L402.77,546.83 L404.7,546.67 L406.62,546.53 L408.55,546.4 L410.47,546.29 L412.4,546.2 L414.32,546.12 L416.25,546.06 L418.18,546.03 L420.1,546.01 L422.03,546.01 L423.95,546.04 L425.88,546.08 L427.8,546.15 L429.73,546.23 L431.65,546.34 L433.58,546.47 L435.51,546.62 L437.43,546.79 L439.36,546.97 L441.28,547.18 L443.21,547.4 L445.13,547.65 L447.06,547.9 L448.98,548.18 L450.91,548.46 L452.84,548.76 L454.76,549.08 L456.69,549.4 L458.61,549.73 L460.54,550.07 L462.46,550.42 L464.39,550.77 L466.31,551.12 L468.24,551.48 L470.17,551.84 L472.09,552.19 L474.02,552.55 L475.94,552.9 L477.87,553.24 L479.79,553.58 L481.72,553.91 L483.64,554.23 L485.57,554.55 L487.49,554.85 L489.42,555.14 L491.35,555.41 L493.27,555.68 L495.2,555.93 L497.12,556.16 L499.05,556.38" class="rd"/>
<path d="M231.4,559.07 L233.33,559.16 L235.25,559.26 L237.18,559.37 L239.1,559.49 L241.03,559.62 L242.95,559.76 L244.88,559.9 L246.8,560.05 L248.73,560.2 L250.66,560.35 L252.58,560.51 L254.51,560.67 L256.43,560.83 L258.36,560.99 L260.28,561.15 L262.21,561.31 L264.13,561.47 L266.06,561.62 L267.98,561.76 L269.91,561.9 L271.84,562.04 L273.76,562.16 L275.69,562.29 L277.61,562.4 L279.54,562.51 L281.46,562.6 L283.39,562.69 L285.31,562.77 L287.24,562.85 L289.17,562.91 L291.09,562.97 L293.02,563.01 L294.94,563.05 L296.87,563.08 L298.79,563.11 L300.72,563.12 L302.64,563.13 L304.57,563.14 L306.5,563.14 L308.42,563.13 L310.35,563.12 L312.27,563.11 L314.2,563.09 L316.12,563.08 L318.05,563.06 L319.97,563.04 L321.9,563.02 L323.83,563 L325.75,562.98 L327.68,562.96 L329.6,562.95 L331.53,562.94 L333.45,562.93 L335.38,562.93 L337.3,562.93 L339.23,562.94 L341.15,562.95 L343.08,562.97 L345.01,562.99 L346.93,563.02 L348.86,563.05 L350.78,563.09 L352.71,563.14 L354.63,563.19 L356.56,563.24 L358.48,563.3 L360.41,563.37 L362.34,563.43 L364.26,563.5 L366.19,563.58 L368.11,563.65 L370.04,563.73 L371.96,563.81 L373.89,563.88 L375.81,563.96 L377.74,564.03 L379.67,564.1 L381.59,564.17 L383.52,564.24 L385.44,564.29 L387.37,564.35 L389.29,564.39 L391.22,564.43 L393.14,564.46 L395.07,564.49 L397,564.5 L398.92,564.5 L400.85,564.5 L402.77,564.48 L404.7,564.45 L406.62,564.41 L408.55,564.36 L410.47,564.3 L412.4,564.23 L414.32,564.14 L416.25,564.04 L418.18,563.93 L420.1,563.82 L422.03,563.69 L423.95,563.55 L425.88,563.4 L427.8,563.24 L429.73,563.07 L431.65,562.89 L433.58,562.71 L435.51,562.53 L437.43,562.33 L439.36,562.14 L441.28,561.94 L443.21,561.74 L445.13,561.53 L447.06,561.33 L448.98,561.13 L450.91,560.93 L452.84,560.74 L454.76,560.54 L456.69,560.36 L458.61,560.18 L460.54,560.01 L462.46,559.84 L464.39,559.69 L466.31,559.55 L468.24,559.41 L470.17,559.29 L472.09,559.18 L474.02,559.08 L475.94,559 L477.87,558.93 L479.79,558.87 L481.72,558.83 L483.64,558.8 L485.57,558.79 L487.49,558.79 L489.42,558.8 L491.35,558.83 L493.27,558.87 L495.2,558.93 L497.12,558.99 L499.05,559.07" class="rd"/>
<path d="M231.4,562.46 L233.33,562.79 L235.25,563.09 L237.18,563.38 L239.1,563.66 L241.03,563.91 L242.95,564.15 L244.88,564.38 L246.8,564.59 L248.73,564.78 L250.66,564.95 L252.58,565.12 L254.51,565.27 L256.43,565.4 L258.36,565.53 L260.28,565.64 L262.21,565.74 L264.13,565.84 L266.06,565.93 L267.98,566.01 L269.91,566.09 L271.84,566.16 L273.76,566.23 L275.69,566.3 L277.61,566.36 L279.54,566.43 L281.46,566.5 L283.39,566.57 L285.31,566.64 L287.24,566.71 L289.17,566.79 L291.09,566.87 L293.02,566.95 L294.94,567.04 L296.87,567.14 L298.79,567.23 L300.72,567.33 L302.64,567.44 L304.57,567.55 L306.5,567.66 L308.42,567.77 L310.35,567.88 L312.27,567.99 L314.2,568.1 L316.12,568.2 L318.05,568.31 L319.97,568.4 L321.9,568.5 L323.83,568.58 L325.75,568.65 L327.68,568.72 L329.6,568.77 L331.53,568.81 L333.45,568.83 L335.38,568.84 L337.3,568.83 L339.23,568.8 L341.15,568.75 L343.08,568.68 L345.01,568.59 L346.93,568.47 L348.86,568.33 L350.78,568.17 L352.71,567.98 L354.63,567.77 L356.56,567.53 L358.48,567.27 L360.41,566.98 L362.34,566.67 L364.26,566.34 L366.19,565.98 L368.11,565.59 L370.04,565.19 L371.96,564.76 L373.89,564.32 L375.81,563.86 L377.74,563.38 L379.67,562.89 L381.59,562.38 L383.52,561.87 L385.44,561.34 L387.37,560.81 L389.29,560.28 L391.22,559.74 L393.14,559.2 L395.07,558.67 L397,558.14 L398.92,557.62 L400.85,557.11 L402.77,556.61 L404.7,556.12 L406.62,555.66 L408.55,555.21 L410.47,554.78 L412.4,554.38 L414.32,554 L416.25,553.65 L418.18,553.32 L420.1,553.03 L422.03,552.77 L423.95,552.54 L425.88,552.34 L427.8,552.17 L429.73,552.04 L431.65,551.95 L433.58,551.89 L435.51,551.86 L437.43,551.87 L439.36,551.92 L441.28,551.99 L443.21,552.11 L445.13,552.25 L447.06,552.42 L448.98,552.63 L450.91,552.86 L452.84,553.12 L454.76,553.41 L456.69,553.71 L458.61,554.04 L460.54,554.39 L462.46,554.76 L464.39,555.15 L466.31,555.55 L468.24,555.95 L470.17,556.37 L472.09,556.8 L474.02,557.23 L475.94,557.67 L477.87,558.1 L479.79,558.54 L481.72,558.97 L483.64,559.39 L485.57,559.82 L487.49,560.23 L489.42,560.63 L491.35,561.02 L493.27,561.4 L495.2,561.77 L497.12,562.13 L499.05,562.46" class="rd"/>
<path d="M231.4,563.98 L233.33,563.84 L235.25,563.73 L237.18,563.64 L239.1,563.57 L241.03,563.53 L242.95,563.52 L244.88,563.53 L246.8,563.57 L248.73,563.64 L250.66,563.73 L252.58,563.84 L254.51,563.99 L256.43,564.15 L258.36,564.35 L260.28,564.57 L262.21,564.81 L264.13,565.08 L266.06,565.37 L267.98,565.69 L269.91,566.03 L271.84,566.39 L273.76,566.77 L275.69,567.18 L277.61,567.6 L279.54,568.05 L281.46,568.51 L283.39,568.99 L285.31,569.49 L287.24,570 L289.17,570.52 L291.09,571.06 L293.02,571.61 L294.94,572.17 L296.87,572.75 L298.79,573.32 L300.72,573.91 L302.64,574.5 L304.57,575.09 L306.5,575.69 L308.42,576.29 L310.35,576.89 L312.27,577.48 L314.2,578.08 L316.12,578.67 L318.05,579.25 L319.97,579.82 L321.9,580.39 L323.83,580.95 L325.75,581.49 L327.68,582.03 L329.6,582.55 L331.53,583.05 L333.45,583.54 L335.38,584.01 L337.3,584.47 L339.23,584.9 L341.15,585.32 L343.08,585.71 L345.01,586.08 L346.93,586.43 L348.86,586.76 L350.78,587.07 L352.71,587.34 L354.63,587.6 L356.56,587.83 L358.48,588.03 L360.41,588.21 L362.34,588.36 L364.26,588.49 L366.19,588.58 L368.11,588.66 L370.04,588.7 L371.96,588.72 L373.89,588.71 L375.81,588.68 L377.74,588.62 L379.67,588.54 L381.59,588.43 L383.52,588.3 L385.44,588.14 L387.37,587.96 L389.29,587.75 L391.22,587.52 L393.14,587.27 L395.07,587 L397,586.71 L398.92,586.39 L400.85,586.06 L402.77,585.71 L404.7,585.34 L406.62,584.96 L408.55,584.56 L410.47,584.14 L412.4,583.71 L414.32,583.27 L416.25,582.81 L418.18,582.34 L420.1,581.86 L422.03,581.37 L423.95,580.87 L425.88,580.36 L427.8,579.85 L429.73,579.33 L431.65,578.8 L433.58,578.27 L435.51,577.74 L437.43,577.2 L439.36,576.66 L441.28,576.12 L443.21,575.58 L445.13,575.04 L447.06,574.51 L448.98,573.97 L450.91,573.45 L452.84,572.92 L454.76,572.4 L456.69,571.89 L458.61,571.38 L460.54,570.89 L462.46,570.4 L464.39,569.92 L466.31,569.46 L468.24,569 L470.17,568.56 L472.09,568.13 L474.02,567.72 L475.94,567.32 L477.87,566.93 L479.79,566.57 L481.72,566.22 L483.64,565.89 L485.57,565.57 L487.49,565.28 L489.42,565.01 L491.35,564.76 L493.27,564.53 L495.2,564.32 L497.12,564.14 L499.05,563.98" class="rd"/>
<path d="M231.4,591.59 L233.33,591.74 L235.25,591.91 L237.18,592.09 L239.1,592.28 L241.03,592.47 L242.95,592.68 L244.88,592.9 L246.8,593.12 L248.73,593.35 L250.66,593.59 L252.58,593.84 L254.51,594.09 L256.43,594.34 L258.36,594.6 L260.28,594.87 L262.21,595.13 L264.13,595.4 L266.06,595.68 L267.98,595.95 L269.91,596.22 L271.84,596.5 L273.76,596.77 L275.69,597.04 L277.61,597.31 L279.54,597.58 L281.46,597.85 L283.39,598.11 L285.31,598.37 L287.24,598.63 L289.17,598.89 L291.09,599.13 L293.02,599.38 L294.94,599.62 L296.87,599.85 L298.79,600.08 L300.72,600.3 L302.64,600.51 L304.57,600.72 L306.5,600.92 L308.42,601.11 L310.35,601.3 L312.27,601.48 L314.2,601.65 L316.12,601.81 L318.05,601.97 L319.97,602.11 L321.9,602.25 L323.83,602.38 L325.75,602.5 L327.68,602.61 L329.6,602.71 L331.53,602.81 L333.45,602.89 L335.38,602.96 L337.3,603.02 L339.23,603.08 L341.15,603.12 L343.08,603.16 L345.01,603.18 L346.93,603.19 L348.86,603.2 L350.78,603.19 L352.71,603.17 L354.63,603.14 L356.56,603.1 L358.48,603.05 L360.41,602.99 L362.34,602.91 L364.26,602.83 L366.19,602.74 L368.11,602.63 L370.04,602.52 L371.96,602.39 L373.89,602.25 L375.81,602.1 L377.74,601.95 L379.67,601.78 L381.59,601.6 L383.52,601.41 L385.44,601.21 L387.37,601 L389.29,600.79 L391.22,600.56 L393.14,600.33 L395.07,600.09 L397,599.84 L398.92,599.58 L400.85,599.32 L402.77,599.05 L404.7,598.78 L406.62,598.5 L408.55,598.21 L410.47,597.92 L412.4,597.63 L414.32,597.34 L416.25,597.05 L418.18,596.75 L420.1,596.45 L422.03,596.16 L423.95,595.86 L425.88,595.57 L427.8,595.28 L429.73,594.99 L431.65,594.7 L433.58,594.42 L435.51,594.15 L437.43,593.88 L439.36,593.62 L441.28,593.37 L443.21,593.12 L445.13,592.89 L447.06,592.66 L448.98,592.45 L450.91,592.24 L452.84,592.05 L454.76,591.87 L456.69,591.7 L458.61,591.54 L460.54,591.4 L462.46,591.27 L464.39,591.15 L466.31,591.05 L468.24,590.97 L470.17,590.9 L472.09,590.84 L474.02,590.8 L475.94,590.77 L477.87,590.76 L479.79,590.76 L481.72,590.78 L483.64,590.81 L485.57,590.86 L487.49,590.92 L489.42,591 L491.35,591.09 L493.27,591.2 L495.2,591.31 L497.12,591.45 L499.05,591.59" class="rd"/>
<path d="M231.4,521.47 L233.33,522.11 L235.25,522.77 L237.18,523.43 L239.1,524.11 L241.03,524.8 L242.95,525.5 L244.88,526.2 L246.8,526.9 L248.73,527.61 L250.66,528.32 L252.58,529.03 L254.51,529.74 L256.43,530.44 L258.36,531.14 L260.28,531.83 L262.21,532.52 L264.13,533.2 L266.06,533.86 L267.98,534.51 L269.91,535.15 L271.84,535.78 L273.76,536.38 L275.69,536.97 L277.61,537.54 L279.54,538.1 L281.46,538.62 L283.39,539.13 L285.31,539.61 L287.24,540.07 L289.17,540.5 L291.09,540.91 L293.02,541.29 L294.94,541.64 L296.87,541.96 L298.79,542.25 L300.72,542.51 L302.64,542.74 L304.57,542.94 L306.5,543.11 L308.42,543.25 L310.35,543.35 L312.27,543.42 L314.2,543.46 L316.12,543.47 L318.05,543.45 L319.97,543.39 L321.9,543.3 L323.83,543.19 L325.75,543.04 L327.68,542.85 L329.6,542.64 L331.53,542.4 L333.45,542.13 L335.38,541.83 L337.3,541.51 L339.23,541.15 L341.15,540.78 L343.08,540.37 L345.01,539.94 L346.93,539.49 L348.86,539.01 L350.78,538.52 L352.71,538 L354.63,537.46 L356.56,536.91 L358.48,536.33 L360.41,535.74 L362.34,535.14 L364.26,534.53 L366.19,533.9 L368.11,533.26 L370.04,532.61 L371.96,531.95 L373.89,531.28 L375.81,530.61 L377.74,529.94 L379.67,529.26 L381.59,528.58 L383.52,527.9 L385.44,527.22 L387.37,526.54 L389.29,525.86 L391.22,525.19 L393.14,524.53 L395.07,523.87 L397,523.22 L398.92,522.58 L400.85,521.95 L402.77,521.33 L404.7,520.73 L406.62,520.14 L408.55,519.57 L410.47,519.01 L412.4,518.47 L414.32,517.95 L416.25,517.45 L418.18,516.97 L420.1,516.51 L422.03,516.07 L423.95,515.66 L425.88,515.27 L427.8,514.9 L429.73,514.56 L431.65,514.25 L433.58,513.96 L435.51,513.71 L437.43,513.48 L439.36,513.28 L441.28,513.11 L443.21,512.96 L445.13,512.85 L447.06,512.77 L448.98,512.72 L450.91,512.7 L452.84,512.71 L454.76,512.75 L456.69,512.82 L458.61,512.93 L460.54,513.06 L462.46,513.22 L464.39,513.42 L466.31,513.64 L468.24,513.9 L470.17,514.18 L472.09,514.49 L474.02,514.83 L475.94,515.2 L477.87,515.6 L479.79,516.02 L481.72,516.47 L483.64,516.94 L485.57,517.43 L487.49,517.95 L489.42,518.49 L491.35,519.05 L493.27,519.62 L495.2,520.22 L497.12,520.84 L499.05,521.47" class="gr"/>
<path d="M231.4,535.01 L233.33,534.15 L235.25,533.28 L237.18,532.41 L239.1,531.52 L241.03,530.62 L242.95,529.72 L244.88,528.82 L246.8,527.91 L248.73,527 L250.66,526.1 L252.58,525.2 L254.51,524.3 L256.43,523.42 L258.36,522.54 L260.28,521.68 L262.21,520.83 L264.13,519.99 L266.06,519.17 L267.98,518.37 L269.91,517.6 L271.84,516.84 L273.76,516.11 L275.69,515.41 L277.61,514.73 L279.54,514.08 L281.46,513.47 L283.39,512.89 L285.31,512.34 L287.24,511.82 L289.17,511.35 L291.09,510.91 L293.02,510.51 L294.94,510.14 L296.87,509.82 L298.79,509.54 L300.72,509.3 L302.64,509.11 L304.57,508.95 L306.5,508.84 L308.42,508.77 L310.35,508.75 L312.27,508.77 L314.2,508.83 L316.12,508.94 L318.05,509.09 L319.97,509.28 L321.9,509.52 L323.83,509.79 L325.75,510.11 L327.68,510.47 L329.6,510.86 L331.53,511.3 L333.45,511.77 L335.38,512.27 L337.3,512.82 L339.23,513.39 L341.15,514 L343.08,514.64 L345.01,515.3 L346.93,516 L348.86,516.72 L350.78,517.47 L352.71,518.23 L354.63,519.02 L356.56,519.83 L358.48,520.65 L360.41,521.5 L362.34,522.35 L364.26,523.22 L366.19,524.09 L368.11,524.98 L370.04,525.87 L371.96,526.76 L373.89,527.66 L375.81,528.56 L377.74,529.45 L379.67,530.34 L381.59,531.23 L383.52,532.12 L385.44,532.99 L387.37,533.85 L389.29,534.7 L391.22,535.54 L393.14,536.37 L395.07,537.17 L397,537.96 L398.92,538.73 L400.85,539.48 L402.77,540.21 L404.7,540.91 L406.62,541.59 L408.55,542.25 L410.47,542.87 L412.4,543.47 L414.32,544.04 L416.25,544.58 L418.18,545.09 L420.1,545.56 L422.03,546.01 L423.95,546.42 L425.88,546.79 L427.8,547.14 L429.73,547.44 L431.65,547.71 L433.58,547.95 L435.51,548.14 L437.43,548.3 L439.36,548.43 L441.28,548.51 L443.21,548.56 L445.13,548.57 L447.06,548.54 L448.98,548.48 L450.91,548.37 L452.84,548.23 L454.76,548.06 L456.69,547.84 L458.61,547.59 L460.54,547.3 L462.46,546.97 L464.39,546.61 L466.31,546.22 L468.24,545.79 L470.17,545.33 L472.09,544.83 L474.02,544.3 L475.94,543.74 L477.87,543.15 L479.79,542.54 L481.72,541.89 L483.64,541.22 L485.57,540.52 L487.49,539.79 L489.42,539.04 L491.35,538.28 L493.27,537.49 L495.2,536.68 L497.12,535.85 L499.05,535.01" class="gr"/>
<rect x="457.2" y="419.6" width="43.5" height="43" fill="#fff"/>
<text transform="translate(374.8,412.2) scale(1,1.04)" class="lg" fill="#000">Rhythm compared to control</text>
<text transform="translate(374.8,428.1) scale(1,1.04)" class="lg" font-weight="bold" fill="#2f66ad">Comparable</text>
<text transform="translate(374.8,444.2) scale(1,1.04)" class="lg" font-weight="bold" fill="#ff0000">Lower amplitude</text>
<text transform="translate(374.8,461.5) scale(1,1.04)" class="lg" font-weight="bold" fill="#8fe38f">Phase-shift</text>
<rect x="458.4" y="421.1" width="7.7" height="7.7" fill="#0a64c2"/>
<rect x="458.4" y="437.2" width="7.7" height="7.7" fill="#ff0000"/>
<rect x="458.4" y="453.3" width="7.7" height="7.7" fill="#66ee44"/>
<path d="M471.8,425.8 H477.7 M479.9,425.8 H490.2 M492.4,425.8 H498.3" stroke="#93b8de" stroke-width="1.6" fill="none"/>
<path d="M472.6,441.3 H498.8" stroke="#c03030" stroke-width="1.2" stroke-dasharray="1 1.4" fill="none"/>
<path d="M471.8,456.9 H498.8" stroke="#8ee88a" stroke-width="1.7" fill="none"/>
</svg>
</body></html>
